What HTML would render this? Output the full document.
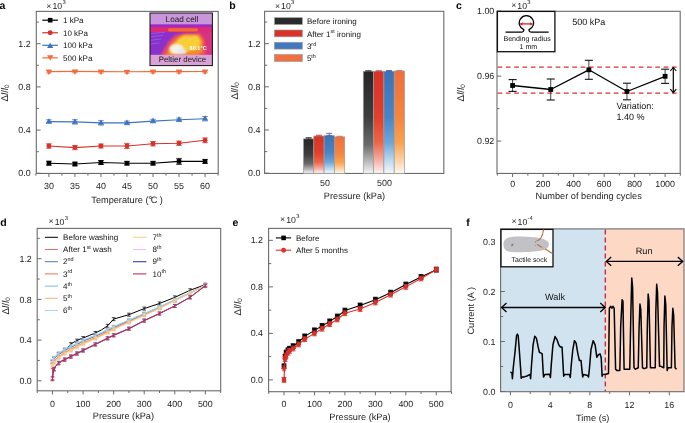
<!DOCTYPE html>
<html><head><meta charset="utf-8"><style>
html,body{margin:0;padding:0;background:#fff;width:685px;height:423px;overflow:hidden}
svg{display:block;font-family:"Liberation Sans", sans-serif;will-change:transform;text-rendering:geometricPrecision}
</style></head><body>
<svg width="685" height="423" viewBox="0 0 685 423" font-family='"Liberation Sans", sans-serif'>
<rect width="685" height="423" fill="#fff"/>
<rect x="36.30" y="11.40" width="181.90" height="162.05" fill="none" stroke="#6b6b6b" stroke-width="1.1"/>
<line x1="36.30" y1="173.30" x2="40.60" y2="173.30" stroke="#6b6b6b" stroke-width="1" />
<text x="30.70" y="176.40" font-size="8.9" text-anchor="end" fill="#222" font-weight="normal" >0.0</text>
<line x1="36.30" y1="130.10" x2="40.60" y2="130.10" stroke="#6b6b6b" stroke-width="1" />
<text x="30.70" y="133.20" font-size="8.9" text-anchor="end" fill="#222" font-weight="normal" >0.4</text>
<line x1="36.30" y1="86.90" x2="40.60" y2="86.90" stroke="#6b6b6b" stroke-width="1" />
<text x="30.70" y="90.00" font-size="8.9" text-anchor="end" fill="#222" font-weight="normal" >0.8</text>
<line x1="36.30" y1="43.70" x2="40.60" y2="43.70" stroke="#6b6b6b" stroke-width="1" />
<text x="30.70" y="46.80" font-size="8.9" text-anchor="end" fill="#222" font-weight="normal" >1.2</text>
<line x1="36.30" y1="151.70" x2="38.90" y2="151.70" stroke="#6b6b6b" stroke-width="1" />
<line x1="36.30" y1="108.50" x2="38.90" y2="108.50" stroke="#6b6b6b" stroke-width="1" />
<line x1="36.30" y1="65.30" x2="38.90" y2="65.30" stroke="#6b6b6b" stroke-width="1" />
<line x1="36.30" y1="22.10" x2="38.90" y2="22.10" stroke="#6b6b6b" stroke-width="1" />
<line x1="48.90" y1="173.45" x2="48.90" y2="177.05" stroke="#6b6b6b" stroke-width="1" />
<text x="48.90" y="189.35" font-size="8.9" text-anchor="middle" fill="#222" font-weight="normal" >30</text>
<line x1="74.92" y1="173.45" x2="74.92" y2="177.05" stroke="#6b6b6b" stroke-width="1" />
<text x="74.92" y="189.35" font-size="8.9" text-anchor="middle" fill="#222" font-weight="normal" >35</text>
<line x1="100.95" y1="173.45" x2="100.95" y2="177.05" stroke="#6b6b6b" stroke-width="1" />
<text x="100.95" y="189.35" font-size="8.9" text-anchor="middle" fill="#222" font-weight="normal" >40</text>
<line x1="126.97" y1="173.45" x2="126.97" y2="177.05" stroke="#6b6b6b" stroke-width="1" />
<text x="126.97" y="189.35" font-size="8.9" text-anchor="middle" fill="#222" font-weight="normal" >45</text>
<line x1="153.00" y1="173.45" x2="153.00" y2="177.05" stroke="#6b6b6b" stroke-width="1" />
<text x="153.00" y="189.35" font-size="8.9" text-anchor="middle" fill="#222" font-weight="normal" >50</text>
<line x1="179.03" y1="173.45" x2="179.03" y2="177.05" stroke="#6b6b6b" stroke-width="1" />
<text x="179.03" y="189.35" font-size="8.9" text-anchor="middle" fill="#222" font-weight="normal" >55</text>
<line x1="205.05" y1="173.45" x2="205.05" y2="177.05" stroke="#6b6b6b" stroke-width="1" />
<text x="205.05" y="189.35" font-size="8.9" text-anchor="middle" fill="#222" font-weight="normal" >60</text>
<line x1="35.89" y1="173.45" x2="35.89" y2="175.65" stroke="#6b6b6b" stroke-width="1" />
<line x1="61.91" y1="173.45" x2="61.91" y2="175.65" stroke="#6b6b6b" stroke-width="1" />
<line x1="87.94" y1="173.45" x2="87.94" y2="175.65" stroke="#6b6b6b" stroke-width="1" />
<line x1="113.96" y1="173.45" x2="113.96" y2="175.65" stroke="#6b6b6b" stroke-width="1" />
<line x1="139.99" y1="173.45" x2="139.99" y2="175.65" stroke="#6b6b6b" stroke-width="1" />
<line x1="166.01" y1="173.45" x2="166.01" y2="175.65" stroke="#6b6b6b" stroke-width="1" />
<line x1="192.04" y1="173.45" x2="192.04" y2="175.65" stroke="#6b6b6b" stroke-width="1" />
<line x1="218.06" y1="173.45" x2="218.06" y2="175.65" stroke="#6b6b6b" stroke-width="1" />
<text x="-0.40" y="8.70" font-size="10.5" text-anchor="start" fill="#000" font-weight="bold" >a</text>
<text x="48.90" y="8.50" font-size="8.7" text-anchor="middle" fill="#222">×</text>
<text x="52.50" y="8.80" font-size="8.7" fill="#222">10</text>
<text x="62.50" y="4.20" font-size="5.8" fill="#222">3</text>
<text transform="translate(8.00,93.00) rotate(-90)" font-size="9.8" text-anchor="middle" fill="#222">Δ<tspan font-style="italic">l</tspan>/<tspan font-style="italic">l</tspan><tspan font-size="6.3" dy="1.3">0</tspan></text>
<text x="91.3" y="202.7" font-size="9.2" fill="#222">Temperature (</text>
<circle cx="150.4" cy="197.5" r="1.05" fill="none" stroke="#222" stroke-width="0.75"/>
<text x="150.8" y="202.7" font-size="9.2" fill="#222">C</text>
<text x="159.7" y="202.7" font-size="9.2" fill="#222">)</text>
<polyline points="48.90,163.20 74.92,164.00 100.95,162.50 126.97,163.20 153.00,163.20 179.03,161.40 205.05,161.40" fill="none" stroke="#000" stroke-width="1.1" stroke-linejoin="round" />
<line x1="48.90" y1="161.20" x2="48.90" y2="165.20" stroke="#000" stroke-width="0.8" />
<line x1="46.10" y1="161.20" x2="51.70" y2="161.20" stroke="#000" stroke-width="0.8" />
<line x1="46.10" y1="165.20" x2="51.70" y2="165.20" stroke="#000" stroke-width="0.8" />
<rect x="46.60" y="160.90" width="4.60" height="4.60" fill="#000"/>
<line x1="74.92" y1="162.20" x2="74.92" y2="165.80" stroke="#000" stroke-width="0.8" />
<line x1="72.12" y1="162.20" x2="77.72" y2="162.20" stroke="#000" stroke-width="0.8" />
<line x1="72.12" y1="165.80" x2="77.72" y2="165.80" stroke="#000" stroke-width="0.8" />
<rect x="72.62" y="161.70" width="4.60" height="4.60" fill="#000"/>
<line x1="100.95" y1="160.50" x2="100.95" y2="164.50" stroke="#000" stroke-width="0.8" />
<line x1="98.15" y1="160.50" x2="103.75" y2="160.50" stroke="#000" stroke-width="0.8" />
<line x1="98.15" y1="164.50" x2="103.75" y2="164.50" stroke="#000" stroke-width="0.8" />
<rect x="98.65" y="160.20" width="4.60" height="4.60" fill="#000"/>
<line x1="126.97" y1="161.40" x2="126.97" y2="165.00" stroke="#000" stroke-width="0.8" />
<line x1="124.17" y1="161.40" x2="129.78" y2="161.40" stroke="#000" stroke-width="0.8" />
<line x1="124.17" y1="165.00" x2="129.78" y2="165.00" stroke="#000" stroke-width="0.8" />
<rect x="124.67" y="160.90" width="4.60" height="4.60" fill="#000"/>
<line x1="153.00" y1="161.40" x2="153.00" y2="165.00" stroke="#000" stroke-width="0.8" />
<line x1="150.20" y1="161.40" x2="155.80" y2="161.40" stroke="#000" stroke-width="0.8" />
<line x1="150.20" y1="165.00" x2="155.80" y2="165.00" stroke="#000" stroke-width="0.8" />
<rect x="150.70" y="160.90" width="4.60" height="4.60" fill="#000"/>
<line x1="179.03" y1="158.40" x2="179.03" y2="164.40" stroke="#000" stroke-width="0.8" />
<line x1="176.22" y1="158.40" x2="181.83" y2="158.40" stroke="#000" stroke-width="0.8" />
<line x1="176.22" y1="164.40" x2="181.83" y2="164.40" stroke="#000" stroke-width="0.8" />
<rect x="176.72" y="159.10" width="4.60" height="4.60" fill="#000"/>
<line x1="205.05" y1="159.40" x2="205.05" y2="163.40" stroke="#000" stroke-width="0.8" />
<line x1="202.25" y1="159.40" x2="207.85" y2="159.40" stroke="#000" stroke-width="0.8" />
<line x1="202.25" y1="163.40" x2="207.85" y2="163.40" stroke="#000" stroke-width="0.8" />
<rect x="202.75" y="159.10" width="4.60" height="4.60" fill="#000"/>
<polyline points="48.90,146.00 74.92,147.60 100.95,146.00 126.97,146.00 153.00,143.70 179.03,143.20 205.05,140.30" fill="none" stroke="#d9302a" stroke-width="1.1" stroke-linejoin="round" />
<line x1="48.90" y1="143.80" x2="48.90" y2="148.20" stroke="#d9302a" stroke-width="0.8" />
<line x1="46.10" y1="143.80" x2="51.70" y2="143.80" stroke="#d9302a" stroke-width="0.8" />
<line x1="46.10" y1="148.20" x2="51.70" y2="148.20" stroke="#d9302a" stroke-width="0.8" />
<circle cx="48.90" cy="146.00" r="2.48" fill="#d9302a"/>
<line x1="74.92" y1="145.50" x2="74.92" y2="149.70" stroke="#d9302a" stroke-width="0.8" />
<line x1="72.12" y1="145.50" x2="77.72" y2="145.50" stroke="#d9302a" stroke-width="0.8" />
<line x1="72.12" y1="149.70" x2="77.72" y2="149.70" stroke="#d9302a" stroke-width="0.8" />
<circle cx="74.92" cy="147.60" r="2.48" fill="#d9302a"/>
<line x1="100.95" y1="144.00" x2="100.95" y2="148.00" stroke="#d9302a" stroke-width="0.8" />
<line x1="98.15" y1="144.00" x2="103.75" y2="144.00" stroke="#d9302a" stroke-width="0.8" />
<line x1="98.15" y1="148.00" x2="103.75" y2="148.00" stroke="#d9302a" stroke-width="0.8" />
<circle cx="100.95" cy="146.00" r="2.48" fill="#d9302a"/>
<line x1="126.97" y1="143.40" x2="126.97" y2="148.60" stroke="#d9302a" stroke-width="0.8" />
<line x1="124.17" y1="143.40" x2="129.78" y2="143.40" stroke="#d9302a" stroke-width="0.8" />
<line x1="124.17" y1="148.60" x2="129.78" y2="148.60" stroke="#d9302a" stroke-width="0.8" />
<circle cx="126.97" cy="146.00" r="2.48" fill="#d9302a"/>
<line x1="153.00" y1="141.50" x2="153.00" y2="145.90" stroke="#d9302a" stroke-width="0.8" />
<line x1="150.20" y1="141.50" x2="155.80" y2="141.50" stroke="#d9302a" stroke-width="0.8" />
<line x1="150.20" y1="145.90" x2="155.80" y2="145.90" stroke="#d9302a" stroke-width="0.8" />
<circle cx="153.00" cy="143.70" r="2.48" fill="#d9302a"/>
<line x1="179.03" y1="141.10" x2="179.03" y2="145.30" stroke="#d9302a" stroke-width="0.8" />
<line x1="176.22" y1="141.10" x2="181.83" y2="141.10" stroke="#d9302a" stroke-width="0.8" />
<line x1="176.22" y1="145.30" x2="181.83" y2="145.30" stroke="#d9302a" stroke-width="0.8" />
<circle cx="179.03" cy="143.20" r="2.48" fill="#d9302a"/>
<line x1="205.05" y1="137.90" x2="205.05" y2="142.70" stroke="#d9302a" stroke-width="0.8" />
<line x1="202.25" y1="137.90" x2="207.85" y2="137.90" stroke="#d9302a" stroke-width="0.8" />
<line x1="202.25" y1="142.70" x2="207.85" y2="142.70" stroke="#d9302a" stroke-width="0.8" />
<circle cx="205.05" cy="140.30" r="2.48" fill="#d9302a"/>
<polyline points="48.90,121.60 74.92,121.90 100.95,122.90 126.97,122.90 153.00,121.10 179.03,119.80 205.05,118.70" fill="none" stroke="#3d73c0" stroke-width="1.1" stroke-linejoin="round" />
<line x1="48.90" y1="119.80" x2="48.90" y2="123.40" stroke="#3d73c0" stroke-width="0.8" />
<line x1="46.10" y1="119.80" x2="51.70" y2="119.80" stroke="#3d73c0" stroke-width="0.8" />
<line x1="46.10" y1="123.40" x2="51.70" y2="123.40" stroke="#3d73c0" stroke-width="0.8" />
<polygon points="48.90,118.13 52.05,123.33 45.75,123.33" fill="#3d73c0"/>
<line x1="74.92" y1="119.70" x2="74.92" y2="124.10" stroke="#3d73c0" stroke-width="0.8" />
<line x1="72.12" y1="119.70" x2="77.72" y2="119.70" stroke="#3d73c0" stroke-width="0.8" />
<line x1="72.12" y1="124.10" x2="77.72" y2="124.10" stroke="#3d73c0" stroke-width="0.8" />
<polygon points="74.92,118.43 78.08,123.63 71.77,123.63" fill="#3d73c0"/>
<line x1="100.95" y1="120.70" x2="100.95" y2="125.10" stroke="#3d73c0" stroke-width="0.8" />
<line x1="98.15" y1="120.70" x2="103.75" y2="120.70" stroke="#3d73c0" stroke-width="0.8" />
<line x1="98.15" y1="125.10" x2="103.75" y2="125.10" stroke="#3d73c0" stroke-width="0.8" />
<polygon points="100.95,119.43 104.10,124.63 97.80,124.63" fill="#3d73c0"/>
<line x1="126.97" y1="121.10" x2="126.97" y2="124.70" stroke="#3d73c0" stroke-width="0.8" />
<line x1="124.17" y1="121.10" x2="129.78" y2="121.10" stroke="#3d73c0" stroke-width="0.8" />
<line x1="124.17" y1="124.70" x2="129.78" y2="124.70" stroke="#3d73c0" stroke-width="0.8" />
<polygon points="126.97,119.43 130.13,124.63 123.82,124.63" fill="#3d73c0"/>
<line x1="153.00" y1="119.30" x2="153.00" y2="122.90" stroke="#3d73c0" stroke-width="0.8" />
<line x1="150.20" y1="119.30" x2="155.80" y2="119.30" stroke="#3d73c0" stroke-width="0.8" />
<line x1="150.20" y1="122.90" x2="155.80" y2="122.90" stroke="#3d73c0" stroke-width="0.8" />
<polygon points="153.00,117.63 156.15,122.83 149.85,122.83" fill="#3d73c0"/>
<line x1="179.03" y1="118.00" x2="179.03" y2="121.60" stroke="#3d73c0" stroke-width="0.8" />
<line x1="176.22" y1="118.00" x2="181.83" y2="118.00" stroke="#3d73c0" stroke-width="0.8" />
<line x1="176.22" y1="121.60" x2="181.83" y2="121.60" stroke="#3d73c0" stroke-width="0.8" />
<polygon points="179.03,116.33 182.18,121.53 175.87,121.53" fill="#3d73c0"/>
<line x1="205.05" y1="116.50" x2="205.05" y2="120.90" stroke="#3d73c0" stroke-width="0.8" />
<line x1="202.25" y1="116.50" x2="207.85" y2="116.50" stroke="#3d73c0" stroke-width="0.8" />
<line x1="202.25" y1="120.90" x2="207.85" y2="120.90" stroke="#3d73c0" stroke-width="0.8" />
<polygon points="205.05,115.23 208.20,120.43 201.90,120.43" fill="#3d73c0"/>
<polyline points="48.90,71.60 74.92,71.40 100.95,71.60 126.97,71.80 153.00,71.60 179.03,71.60 205.05,71.50" fill="none" stroke="#f26b3a" stroke-width="1.1" stroke-linejoin="round" />
<line x1="48.90" y1="70.20" x2="48.90" y2="73.00" stroke="#f26b3a" stroke-width="0.8" />
<line x1="46.10" y1="70.20" x2="51.70" y2="70.20" stroke="#f26b3a" stroke-width="0.8" />
<line x1="46.10" y1="73.00" x2="51.70" y2="73.00" stroke="#f26b3a" stroke-width="0.8" />
<polygon points="48.90,75.07 52.05,69.87 45.75,69.87" fill="#f26b3a"/>
<line x1="74.92" y1="70.00" x2="74.92" y2="72.80" stroke="#f26b3a" stroke-width="0.8" />
<line x1="72.12" y1="70.00" x2="77.72" y2="70.00" stroke="#f26b3a" stroke-width="0.8" />
<line x1="72.12" y1="72.80" x2="77.72" y2="72.80" stroke="#f26b3a" stroke-width="0.8" />
<polygon points="74.92,74.87 78.08,69.67 71.77,69.67" fill="#f26b3a"/>
<line x1="100.95" y1="70.20" x2="100.95" y2="73.00" stroke="#f26b3a" stroke-width="0.8" />
<line x1="98.15" y1="70.20" x2="103.75" y2="70.20" stroke="#f26b3a" stroke-width="0.8" />
<line x1="98.15" y1="73.00" x2="103.75" y2="73.00" stroke="#f26b3a" stroke-width="0.8" />
<polygon points="100.95,75.07 104.10,69.87 97.80,69.87" fill="#f26b3a"/>
<line x1="126.97" y1="70.40" x2="126.97" y2="73.20" stroke="#f26b3a" stroke-width="0.8" />
<line x1="124.17" y1="70.40" x2="129.78" y2="70.40" stroke="#f26b3a" stroke-width="0.8" />
<line x1="124.17" y1="73.20" x2="129.78" y2="73.20" stroke="#f26b3a" stroke-width="0.8" />
<polygon points="126.97,75.27 130.13,70.07 123.82,70.07" fill="#f26b3a"/>
<line x1="153.00" y1="70.20" x2="153.00" y2="73.00" stroke="#f26b3a" stroke-width="0.8" />
<line x1="150.20" y1="70.20" x2="155.80" y2="70.20" stroke="#f26b3a" stroke-width="0.8" />
<line x1="150.20" y1="73.00" x2="155.80" y2="73.00" stroke="#f26b3a" stroke-width="0.8" />
<polygon points="153.00,75.07 156.15,69.87 149.85,69.87" fill="#f26b3a"/>
<line x1="179.03" y1="70.20" x2="179.03" y2="73.00" stroke="#f26b3a" stroke-width="0.8" />
<line x1="176.22" y1="70.20" x2="181.83" y2="70.20" stroke="#f26b3a" stroke-width="0.8" />
<line x1="176.22" y1="73.00" x2="181.83" y2="73.00" stroke="#f26b3a" stroke-width="0.8" />
<polygon points="179.03,75.07 182.18,69.87 175.87,69.87" fill="#f26b3a"/>
<line x1="205.05" y1="70.10" x2="205.05" y2="72.90" stroke="#f26b3a" stroke-width="0.8" />
<line x1="202.25" y1="70.10" x2="207.85" y2="70.10" stroke="#f26b3a" stroke-width="0.8" />
<line x1="202.25" y1="72.90" x2="207.85" y2="72.90" stroke="#f26b3a" stroke-width="0.8" />
<polygon points="205.05,74.97 208.20,69.77 201.90,69.77" fill="#f26b3a"/>
<line x1="42.30" y1="20.20" x2="57.90" y2="20.20" stroke="#000" stroke-width="1.2" />
<rect x="47.90" y="17.90" width="4.60" height="4.60" fill="#000"/>
<text x="63.00" y="23.10" font-size="8.0" text-anchor="start" fill="#111" font-weight="normal" >1 kPa</text>
<line x1="42.30" y1="32.75" x2="57.90" y2="32.75" stroke="#d9302a" stroke-width="1.2" />
<circle cx="50.20" cy="32.75" r="2.48" fill="#d9302a"/>
<text x="63.00" y="35.65" font-size="8.0" text-anchor="start" fill="#111" font-weight="normal" >10 kPa</text>
<line x1="42.30" y1="45.30" x2="57.90" y2="45.30" stroke="#3d73c0" stroke-width="1.2" />
<polygon points="50.20,42.70 53.35,47.90 47.05,47.90" fill="#3d73c0"/>
<text x="63.00" y="48.20" font-size="8.0" text-anchor="start" fill="#111" font-weight="normal" >100 kPa</text>
<line x1="42.30" y1="57.85" x2="57.90" y2="57.85" stroke="#f26b3a" stroke-width="1.2" />
<polygon points="50.20,60.45 53.35,55.25 47.05,55.25" fill="#f26b3a"/>
<text x="63.00" y="60.75" font-size="8.0" text-anchor="start" fill="#111" font-weight="normal" >500 kPa</text>
<defs><clipPath id="thc"><rect x="150.00" y="13.00" width="62.40" height="52.60"/></clipPath><filter id="bl1" x="-50%" y="-50%" width="200%" height="200%"><feGaussianBlur stdDeviation="1.6"/></filter><filter id="bl2" x="-50%" y="-50%" width="200%" height="200%"><feGaussianBlur stdDeviation="0.8"/></filter><filter id="bl3" x="-50%" y="-50%" width="200%" height="200%"><feGaussianBlur stdDeviation="0.4"/></filter></defs>
<g clip-path="url(#thc)">
<rect x="150" y="13" width="62.400000000000006" height="52.599999999999994" fill="#8a30cc"/>
<rect x="147" y="26.8" width="68.4" height="5.4" fill="#dc2a78" filter="url(#bl3)"/>
<rect x="197" y="31" width="18" height="25" fill="#d83080" filter="url(#bl2)"/>
<polygon points="160,56 168,42 175,35 184,33 200,33 205,40 206,56" fill="#e8486a" filter="url(#bl2)"/>
<polygon points="165,56 172,43 178,37 185,34.5 199,34.5 203,40 203,52 196,56" fill="#f4882c" filter="url(#bl2)"/>
<polygon points="170,54 176,42 181,37 187,35.5 198,36 201,42 199,49 190,51" fill="#f8cc34" filter="url(#bl2)"/>
<circle cx="184" cy="37" r="1.1" fill="#f9dc58" filter="url(#bl2)"/>
<circle cx="190" cy="39" r="1.1" fill="#f9dc58" filter="url(#bl2)"/>
<circle cx="195" cy="37" r="1.1" fill="#f9dc58" filter="url(#bl2)"/>
<circle cx="187" cy="43" r="1.1" fill="#f9dc58" filter="url(#bl2)"/>
<circle cx="193" cy="44" r="1.1" fill="#f9dc58" filter="url(#bl2)"/>
<circle cx="181" cy="41" r="1.1" fill="#f9dc58" filter="url(#bl2)"/>
<circle cx="198" cy="41" r="1.1" fill="#f9dc58" filter="url(#bl2)"/>
<ellipse cx="176.5" cy="49" rx="7.2" ry="5" fill="#f4f2ea" filter="url(#bl2)"/>
<ellipse cx="182" cy="51.5" rx="4.5" ry="2.6" fill="#dfe8f2" filter="url(#bl2)"/>
<rect x="168" y="28.3" width="30" height="3.2" rx="1.5" fill="#f26a32" filter="url(#bl3)"/>
<line x1="151" y1="33.5" x2="164.8" y2="32.3" stroke="#a670dc" stroke-width="0.6"/>
<line x1="151" y1="36.6" x2="163.2" y2="35.4" stroke="#a670dc" stroke-width="0.6"/>
<line x1="151" y1="40.2" x2="161.4" y2="39.0" stroke="#a670dc" stroke-width="0.6"/>
<line x1="151" y1="44" x2="159.5" y2="42.8" stroke="#a670dc" stroke-width="0.6"/>
<rect x="150" y="13" width="62.400000000000006" height="11.6" fill="#c996da"/>
<rect x="150" y="24.6" width="62.400000000000006" height="1.6" fill="#9a2ad0"/>
<rect x="150" y="54.8" width="62.400000000000006" height="10.8" fill="#d8a2d4"/>
</g>
<rect x="150" y="13" width="62.400000000000006" height="52.599999999999994" fill="none" stroke="#111" stroke-width="1"/>
<text x="182.00" y="21.70" font-size="8.2" text-anchor="middle" fill="#1a1a1a" font-weight="normal" >Load cell</text>
<text x="182.40" y="62.10" font-size="7.9" text-anchor="middle" fill="#1a1a1a" font-weight="normal" >Peltier device</text>
<text x="189.60" y="50.00" font-size="5.6" text-anchor="start" fill="#fff" font-weight="bold" >60.1°C</text>
<rect x="264.60" y="11.30" width="179.20" height="162.15" fill="none" stroke="#6b6b6b" stroke-width="1.1"/>
<line x1="264.60" y1="173.20" x2="268.90" y2="173.20" stroke="#6b6b6b" stroke-width="1" />
<text x="260.40" y="176.30" font-size="8.9" text-anchor="end" fill="#222" font-weight="normal" >0.0</text>
<line x1="264.60" y1="130.00" x2="268.90" y2="130.00" stroke="#6b6b6b" stroke-width="1" />
<text x="260.40" y="133.10" font-size="8.9" text-anchor="end" fill="#222" font-weight="normal" >0.4</text>
<line x1="264.60" y1="86.80" x2="268.90" y2="86.80" stroke="#6b6b6b" stroke-width="1" />
<text x="260.40" y="89.90" font-size="8.9" text-anchor="end" fill="#222" font-weight="normal" >0.8</text>
<line x1="264.60" y1="43.60" x2="268.90" y2="43.60" stroke="#6b6b6b" stroke-width="1" />
<text x="260.40" y="46.70" font-size="8.9" text-anchor="end" fill="#222" font-weight="normal" >1.2</text>
<line x1="264.60" y1="151.60" x2="267.20" y2="151.60" stroke="#6b6b6b" stroke-width="1" />
<line x1="264.60" y1="108.40" x2="267.20" y2="108.40" stroke="#6b6b6b" stroke-width="1" />
<line x1="264.60" y1="65.20" x2="267.20" y2="65.20" stroke="#6b6b6b" stroke-width="1" />
<line x1="264.60" y1="22.00" x2="267.20" y2="22.00" stroke="#6b6b6b" stroke-width="1" />
<text x="325.00" y="186.15" font-size="8.9" text-anchor="middle" fill="#222" font-weight="normal" >50</text>
<text x="384.50" y="186.15" font-size="8.9" text-anchor="middle" fill="#222" font-weight="normal" >500</text>
<text x="229.20" y="8.70" font-size="10.5" text-anchor="start" fill="#000" font-weight="bold" >b</text>
<text x="277.50" y="8.50" font-size="8.7" text-anchor="middle" fill="#222">×</text>
<text x="281.10" y="8.80" font-size="8.7" fill="#222">10</text>
<text x="291.10" y="4.20" font-size="5.8" fill="#222">3</text>
<text transform="translate(237.80,90.80) rotate(-90)" font-size="9.8" text-anchor="middle" fill="#222">Δ<tspan font-style="italic">l</tspan>/<tspan font-style="italic">l</tspan><tspan font-size="6.3" dy="1.3">0</tspan></text>
<text x="354.5" y="198.9" font-size="9.2" text-anchor="middle" fill="#222">Pressure (kPa)</text>
<defs><linearGradient id="gk" x1="0" y1="0" x2="0" y2="1"><stop offset="0" stop-color="#262626"/><stop offset="0.45" stop-color="#3e3e3e"/><stop offset="0.72" stop-color="#6a6a6a"/><stop offset="0.88" stop-color="#b8b8b8"/><stop offset="1" stop-color="#f6f6f6"/></linearGradient><linearGradient id="gr" x1="0" y1="0" x2="0" y2="1"><stop offset="0" stop-color="#d93228"/><stop offset="0.45" stop-color="#e0402c"/><stop offset="0.7" stop-color="#ec6646"/><stop offset="0.86" stop-color="#f6aaa0"/><stop offset="1" stop-color="#fdf4f2"/></linearGradient><linearGradient id="gb" x1="0" y1="0" x2="0" y2="1"><stop offset="0" stop-color="#3c72b8"/><stop offset="0.45" stop-color="#4a84c4"/><stop offset="0.7" stop-color="#6ea6d8"/><stop offset="0.86" stop-color="#b6d6ee"/><stop offset="1" stop-color="#f4f9fd"/></linearGradient><linearGradient id="go" x1="0" y1="0" x2="0" y2="1"><stop offset="0" stop-color="#f07038"/><stop offset="0.45" stop-color="#f58540"/><stop offset="0.7" stop-color="#f9a250"/><stop offset="0.86" stop-color="#fcd0a0"/><stop offset="1" stop-color="#fef8f0"/></linearGradient></defs>
<rect x="303.50" y="138.86" width="10.30" height="34.59" fill="url(#gk)" stroke="#9a9a9a" stroke-width="0.7"/>
<line x1="308.65" y1="137.56" x2="308.65" y2="138.86" stroke="#333" stroke-width="0.8" />
<line x1="305.65" y1="137.56" x2="311.65" y2="137.56" stroke="#333" stroke-width="0.8" />
<line x1="305.65" y1="138.86" x2="311.65" y2="138.86" stroke="#333" stroke-width="0.8" />
<rect x="313.80" y="136.05" width="10.30" height="37.40" fill="url(#gr)" stroke="#9a9a9a" stroke-width="0.7"/>
<line x1="318.95" y1="135.18" x2="318.95" y2="136.05" stroke="#c03a50" stroke-width="0.8" />
<line x1="315.95" y1="135.18" x2="321.95" y2="135.18" stroke="#c03a50" stroke-width="0.8" />
<line x1="315.95" y1="136.05" x2="321.95" y2="136.05" stroke="#c03a50" stroke-width="0.8" />
<rect x="324.10" y="135.72" width="10.30" height="37.73" fill="url(#gb)" stroke="#9a9a9a" stroke-width="0.7"/>
<line x1="329.25" y1="133.35" x2="329.25" y2="135.72" stroke="#3a4aa8" stroke-width="0.8" />
<line x1="326.25" y1="133.35" x2="332.25" y2="133.35" stroke="#3a4aa8" stroke-width="0.8" />
<line x1="326.25" y1="135.72" x2="332.25" y2="135.72" stroke="#3a4aa8" stroke-width="0.8" />
<rect x="334.40" y="136.91" width="10.30" height="36.54" fill="url(#go)" stroke="#9a9a9a" stroke-width="0.7"/>
<line x1="339.55" y1="136.26" x2="339.55" y2="136.91" stroke="#e06a6a" stroke-width="0.8" />
<line x1="336.55" y1="136.26" x2="342.55" y2="136.26" stroke="#e06a6a" stroke-width="0.8" />
<line x1="336.55" y1="136.91" x2="342.55" y2="136.91" stroke="#e06a6a" stroke-width="0.8" />
<rect x="363.30" y="71.25" width="10.30" height="102.20" fill="url(#gk)" stroke="#9a9a9a" stroke-width="0.7"/>
<line x1="368.45" y1="70.71" x2="368.45" y2="71.25" stroke="#333" stroke-width="0.8" />
<line x1="365.45" y1="70.71" x2="371.45" y2="70.71" stroke="#333" stroke-width="0.8" />
<line x1="365.45" y1="71.25" x2="371.45" y2="71.25" stroke="#333" stroke-width="0.8" />
<rect x="373.60" y="71.25" width="10.30" height="102.20" fill="url(#gr)" stroke="#9a9a9a" stroke-width="0.7"/>
<line x1="378.75" y1="70.82" x2="378.75" y2="71.25" stroke="#c03a50" stroke-width="0.8" />
<line x1="375.75" y1="70.82" x2="381.75" y2="70.82" stroke="#c03a50" stroke-width="0.8" />
<line x1="375.75" y1="71.25" x2="381.75" y2="71.25" stroke="#c03a50" stroke-width="0.8" />
<rect x="383.90" y="71.25" width="10.30" height="102.20" fill="url(#gb)" stroke="#9a9a9a" stroke-width="0.7"/>
<line x1="389.05" y1="70.60" x2="389.05" y2="71.25" stroke="#3a4aa8" stroke-width="0.8" />
<line x1="386.05" y1="70.60" x2="392.05" y2="70.60" stroke="#3a4aa8" stroke-width="0.8" />
<line x1="386.05" y1="71.25" x2="392.05" y2="71.25" stroke="#3a4aa8" stroke-width="0.8" />
<rect x="394.20" y="71.03" width="10.30" height="102.42" fill="url(#go)" stroke="#9a9a9a" stroke-width="0.7"/>
<line x1="399.35" y1="70.49" x2="399.35" y2="71.03" stroke="#e06a6a" stroke-width="0.8" />
<line x1="396.35" y1="70.49" x2="402.35" y2="70.49" stroke="#e06a6a" stroke-width="0.8" />
<line x1="396.35" y1="71.03" x2="402.35" y2="71.03" stroke="#e06a6a" stroke-width="0.8" />
<rect x="274.5" y="17.70" width="27.8" height="6.8" fill="#2a2a2a" stroke="#999" stroke-width="0.7"/>
<text x="306.90" y="24.30" font-size="8.0" text-anchor="start" fill="#111" font-weight="normal" >Before ironing</text>
<rect x="274.5" y="30.00" width="27.8" height="6.8" fill="#d93228" stroke="#999" stroke-width="0.7"/>
<text x="306.90" y="36.60" font-size="8.0" text-anchor="start" fill="#111" font-weight="normal" >After 1<tspan font-size="5.4" dy="-3.3">st</tspan><tspan dy="3.3"> ironing</tspan></text>
<rect x="274.5" y="42.30" width="27.8" height="6.8" fill="#4178c0" stroke="#999" stroke-width="0.7"/>
<text x="306.90" y="48.90" font-size="8.0" text-anchor="start" fill="#111" font-weight="normal" >3<tspan font-size="5.4" dy="-3.3">rd</tspan></text>
<rect x="274.5" y="54.60" width="27.8" height="6.8" fill="#f07040" stroke="#999" stroke-width="0.7"/>
<text x="306.90" y="61.20" font-size="8.0" text-anchor="start" fill="#111" font-weight="normal" >5<tspan font-size="5.4" dy="-3.3">th</tspan></text>
<rect x="497.00" y="11.30" width="183.20" height="162.15" fill="none" stroke="#6b6b6b" stroke-width="1.1"/>
<line x1="497.00" y1="141.10" x2="501.30" y2="141.10" stroke="#6b6b6b" stroke-width="1" />
<text x="494.30" y="144.20" font-size="8.9" text-anchor="end" fill="#222" font-weight="normal" >0.92</text>
<line x1="497.00" y1="76.10" x2="501.30" y2="76.10" stroke="#6b6b6b" stroke-width="1" />
<text x="494.30" y="79.20" font-size="8.9" text-anchor="end" fill="#222" font-weight="normal" >0.96</text>
<line x1="497.00" y1="11.10" x2="501.30" y2="11.10" stroke="#6b6b6b" stroke-width="1" />
<text x="494.30" y="14.20" font-size="8.9" text-anchor="end" fill="#222" font-weight="normal" >1.00</text>
<line x1="497.00" y1="108.60" x2="499.60" y2="108.60" stroke="#6b6b6b" stroke-width="1" />
<line x1="497.00" y1="43.60" x2="499.60" y2="43.60" stroke="#6b6b6b" stroke-width="1" />
<line x1="512.60" y1="173.45" x2="512.60" y2="177.05" stroke="#6b6b6b" stroke-width="1" />
<text x="512.60" y="186.95" font-size="8.9" text-anchor="middle" fill="#222" font-weight="normal" >0</text>
<line x1="543.10" y1="173.45" x2="543.10" y2="177.05" stroke="#6b6b6b" stroke-width="1" />
<text x="543.10" y="186.95" font-size="8.9" text-anchor="middle" fill="#222" font-weight="normal" >200</text>
<line x1="573.60" y1="173.45" x2="573.60" y2="177.05" stroke="#6b6b6b" stroke-width="1" />
<text x="573.60" y="186.95" font-size="8.9" text-anchor="middle" fill="#222" font-weight="normal" >400</text>
<line x1="604.10" y1="173.45" x2="604.10" y2="177.05" stroke="#6b6b6b" stroke-width="1" />
<text x="604.10" y="186.95" font-size="8.9" text-anchor="middle" fill="#222" font-weight="normal" >600</text>
<line x1="634.60" y1="173.45" x2="634.60" y2="177.05" stroke="#6b6b6b" stroke-width="1" />
<text x="634.60" y="186.95" font-size="8.9" text-anchor="middle" fill="#222" font-weight="normal" >800</text>
<line x1="665.10" y1="173.45" x2="665.10" y2="177.05" stroke="#6b6b6b" stroke-width="1" />
<text x="665.10" y="186.95" font-size="8.9" text-anchor="middle" fill="#222" font-weight="normal" >1000</text>
<line x1="497.35" y1="173.45" x2="497.35" y2="175.65" stroke="#6b6b6b" stroke-width="1" />
<line x1="527.85" y1="173.45" x2="527.85" y2="175.65" stroke="#6b6b6b" stroke-width="1" />
<line x1="558.35" y1="173.45" x2="558.35" y2="175.65" stroke="#6b6b6b" stroke-width="1" />
<line x1="588.85" y1="173.45" x2="588.85" y2="175.65" stroke="#6b6b6b" stroke-width="1" />
<line x1="619.35" y1="173.45" x2="619.35" y2="175.65" stroke="#6b6b6b" stroke-width="1" />
<line x1="649.85" y1="173.45" x2="649.85" y2="175.65" stroke="#6b6b6b" stroke-width="1" />
<line x1="680.35" y1="173.45" x2="680.35" y2="175.65" stroke="#6b6b6b" stroke-width="1" />
<text x="455.90" y="8.70" font-size="10.5" text-anchor="start" fill="#000" font-weight="bold" >c</text>
<text x="513.70" y="8.30" font-size="8.7" text-anchor="middle" fill="#222">×</text>
<text x="517.30" y="8.60" font-size="8.7" fill="#222">10</text>
<text x="527.30" y="4.20" font-size="5.8" fill="#222">3</text>
<text transform="translate(463.70,92.80) rotate(-90)" font-size="9.8" text-anchor="middle" fill="#222">Δ<tspan font-style="italic">l</tspan>/<tspan font-style="italic">l</tspan><tspan font-size="6.3" dy="1.3">0</tspan></text>
<text x="588.7" y="198.8" font-size="9.2" text-anchor="middle" fill="#222">Number of bending cycles</text>
<line x1="497.60" y1="67.20" x2="676.70" y2="67.20" stroke="#e03030" stroke-width="1.3" stroke-dasharray="4.7,3.6"/>
<line x1="497.60" y1="93.10" x2="676.70" y2="93.10" stroke="#e03030" stroke-width="1.3" stroke-dasharray="4.7,3.6"/>
<line x1="673.30" y1="67.60" x2="673.30" y2="92.60" stroke="#000" stroke-width="1.2" />
<polyline points="670.30,71.0 673.30,67.5 676.30,71.0" fill="none" stroke="#000" stroke-width="1.1"/>
<polyline points="670.30,89.2 673.30,92.7 676.30,89.2" fill="none" stroke="#000" stroke-width="1.1"/>
<polyline points="512.60,85.50 550.73,89.50 588.85,69.80 626.98,91.50 665.10,76.30" fill="none" stroke="#000" stroke-width="1.3" stroke-linejoin="round" />
<line x1="512.60" y1="79.60" x2="512.60" y2="91.40" stroke="#444" stroke-width="1.0" />
<line x1="508.60" y1="79.60" x2="516.60" y2="79.60" stroke="#111" stroke-width="1.1" />
<line x1="508.60" y1="91.40" x2="516.60" y2="91.40" stroke="#111" stroke-width="1.1" />
<rect x="510.20" y="83.10" width="4.80" height="4.80" fill="#000"/>
<line x1="550.73" y1="79.00" x2="550.73" y2="100.00" stroke="#444" stroke-width="1.0" />
<line x1="546.73" y1="79.00" x2="554.73" y2="79.00" stroke="#111" stroke-width="1.1" />
<line x1="546.73" y1="100.00" x2="554.73" y2="100.00" stroke="#111" stroke-width="1.1" />
<rect x="548.33" y="87.10" width="4.80" height="4.80" fill="#000"/>
<line x1="588.85" y1="60.30" x2="588.85" y2="79.30" stroke="#444" stroke-width="1.0" />
<line x1="584.85" y1="60.30" x2="592.85" y2="60.30" stroke="#111" stroke-width="1.1" />
<line x1="584.85" y1="79.30" x2="592.85" y2="79.30" stroke="#111" stroke-width="1.1" />
<rect x="586.45" y="67.40" width="4.80" height="4.80" fill="#000"/>
<line x1="626.98" y1="83.20" x2="626.98" y2="99.80" stroke="#444" stroke-width="1.0" />
<line x1="622.98" y1="83.20" x2="630.98" y2="83.20" stroke="#111" stroke-width="1.1" />
<line x1="622.98" y1="99.80" x2="630.98" y2="99.80" stroke="#111" stroke-width="1.1" />
<rect x="624.58" y="89.10" width="4.80" height="4.80" fill="#000"/>
<line x1="665.10" y1="69.20" x2="665.10" y2="83.40" stroke="#444" stroke-width="1.0" />
<line x1="661.10" y1="69.20" x2="669.10" y2="69.20" stroke="#111" stroke-width="1.1" />
<line x1="661.10" y1="83.40" x2="669.10" y2="83.40" stroke="#111" stroke-width="1.1" />
<rect x="662.70" y="73.90" width="4.80" height="4.80" fill="#000"/>
<text x="572.20" y="25.20" font-size="9.0" text-anchor="start" fill="#111" font-weight="normal" >500 kPa</text>
<text x="616.40" y="108.50" font-size="9.0" text-anchor="start" fill="#111" font-weight="normal" >Variation:</text>
<text x="616.60" y="119.90" font-size="9.0" text-anchor="start" fill="#111" font-weight="normal" >1.40 %</text>
<rect x="497.4" y="11.4" width="57.5" height="40.3" fill="#fff" stroke="#111" stroke-width="1.3"/>
<path d="M505.5,32.2 L521.4,32.2 C523.0,32.2 524.0,31.0 523.76,29.6 A7.2,7.2 0 1 1 529.04,29.6 C528.8,31.0 529.8,32.2 531.4,32.2 L548.7,32.2" fill="none" stroke="#000" stroke-width="1.3"/>
<line x1="520.30" y1="23.90" x2="532.40" y2="23.90" stroke="#e02020" stroke-width="1.3" />
<polygon points="519.8,23.9 522.6,22.3 522.6,25.5" fill="#e02020"/>
<polygon points="532.9,23.9 530.1,22.3 530.1,25.5" fill="#e02020"/>
<text x="527.10" y="40.60" font-size="7.1" text-anchor="middle" fill="#111" font-weight="normal" >Bending radius</text>
<text x="528.40" y="49.00" font-size="7.1" text-anchor="middle" fill="#111" font-weight="normal" >1 mm</text>
<rect x="37.20" y="228.40" width="183.50" height="162.40" fill="none" stroke="#6b6b6b" stroke-width="1.1"/>
<line x1="37.20" y1="380.80" x2="41.50" y2="380.80" stroke="#6b6b6b" stroke-width="1" />
<text x="31.80" y="383.90" font-size="8.9" text-anchor="end" fill="#222" font-weight="normal" >0.0</text>
<line x1="37.20" y1="340.10" x2="41.50" y2="340.10" stroke="#6b6b6b" stroke-width="1" />
<text x="31.80" y="343.20" font-size="8.9" text-anchor="end" fill="#222" font-weight="normal" >0.4</text>
<line x1="37.20" y1="299.40" x2="41.50" y2="299.40" stroke="#6b6b6b" stroke-width="1" />
<text x="31.80" y="302.50" font-size="8.9" text-anchor="end" fill="#222" font-weight="normal" >0.8</text>
<line x1="37.20" y1="258.70" x2="41.50" y2="258.70" stroke="#6b6b6b" stroke-width="1" />
<text x="31.80" y="261.80" font-size="8.9" text-anchor="end" fill="#222" font-weight="normal" >1.2</text>
<line x1="37.20" y1="360.45" x2="39.80" y2="360.45" stroke="#6b6b6b" stroke-width="1" />
<line x1="37.20" y1="319.75" x2="39.80" y2="319.75" stroke="#6b6b6b" stroke-width="1" />
<line x1="37.20" y1="279.05" x2="39.80" y2="279.05" stroke="#6b6b6b" stroke-width="1" />
<line x1="37.20" y1="238.35" x2="39.80" y2="238.35" stroke="#6b6b6b" stroke-width="1" />
<line x1="52.50" y1="390.80" x2="52.50" y2="394.40" stroke="#6b6b6b" stroke-width="1" />
<text x="52.50" y="406.90" font-size="8.9" text-anchor="middle" fill="#222" font-weight="normal" >0</text>
<line x1="83.07" y1="390.80" x2="83.07" y2="394.40" stroke="#6b6b6b" stroke-width="1" />
<text x="83.07" y="406.90" font-size="8.9" text-anchor="middle" fill="#222" font-weight="normal" >100</text>
<line x1="113.64" y1="390.80" x2="113.64" y2="394.40" stroke="#6b6b6b" stroke-width="1" />
<text x="113.64" y="406.90" font-size="8.9" text-anchor="middle" fill="#222" font-weight="normal" >200</text>
<line x1="144.21" y1="390.80" x2="144.21" y2="394.40" stroke="#6b6b6b" stroke-width="1" />
<text x="144.21" y="406.90" font-size="8.9" text-anchor="middle" fill="#222" font-weight="normal" >300</text>
<line x1="174.78" y1="390.80" x2="174.78" y2="394.40" stroke="#6b6b6b" stroke-width="1" />
<text x="174.78" y="406.90" font-size="8.9" text-anchor="middle" fill="#222" font-weight="normal" >400</text>
<line x1="205.35" y1="390.80" x2="205.35" y2="394.40" stroke="#6b6b6b" stroke-width="1" />
<text x="205.35" y="406.90" font-size="8.9" text-anchor="middle" fill="#222" font-weight="normal" >500</text>
<line x1="37.21" y1="390.80" x2="37.21" y2="393.00" stroke="#6b6b6b" stroke-width="1" />
<line x1="67.78" y1="390.80" x2="67.78" y2="393.00" stroke="#6b6b6b" stroke-width="1" />
<line x1="98.36" y1="390.80" x2="98.36" y2="393.00" stroke="#6b6b6b" stroke-width="1" />
<line x1="128.93" y1="390.80" x2="128.93" y2="393.00" stroke="#6b6b6b" stroke-width="1" />
<line x1="159.50" y1="390.80" x2="159.50" y2="393.00" stroke="#6b6b6b" stroke-width="1" />
<line x1="190.07" y1="390.80" x2="190.07" y2="393.00" stroke="#6b6b6b" stroke-width="1" />
<line x1="220.64" y1="390.80" x2="220.64" y2="393.00" stroke="#6b6b6b" stroke-width="1" />
<text x="0.20" y="225.90" font-size="10.5" text-anchor="start" fill="#000" font-weight="bold" >d</text>
<text x="51.10" y="224.20" font-size="8.7" text-anchor="middle" fill="#222">×</text>
<text x="54.70" y="224.50" font-size="8.7" fill="#222">10</text>
<text x="64.70" y="219.50" font-size="5.8" fill="#222">3</text>
<text transform="translate(8.90,305.90) rotate(-90)" font-size="9.8" text-anchor="middle" fill="#222">Δ<tspan font-style="italic">l</tspan>/<tspan font-style="italic">l</tspan><tspan font-size="6.3" dy="1.3">0</tspan></text>
<text x="123.4" y="419.4" font-size="9.2" text-anchor="middle" fill="#222">Pressure (kPa)</text>
<polyline points="52.50,361.47 53.11,359.94 54.03,358.42 55.56,356.38 58.61,353.84 61.67,351.80 64.73,349.77 67.78,347.73 70.84,344.17 73.90,342.13 76.96,340.61 80.01,339.08 83.07,338.06 89.18,335.52 95.30,332.98 101.41,329.93 107.53,325.86 113.64,319.14 128.93,314.66 144.21,308.56 159.50,303.47 174.78,297.37 190.07,290.24 205.35,284.65" fill="none" stroke="#000" stroke-width="1.0" stroke-linejoin="round" />
<line x1="52.50" y1="359.97" x2="52.50" y2="362.97" stroke="#000" stroke-width="0.7" />
<line x1="50.70" y1="359.97" x2="54.30" y2="359.97" stroke="#000" stroke-width="0.7" />
<line x1="50.70" y1="362.97" x2="54.30" y2="362.97" stroke="#000" stroke-width="0.7" />
<line x1="54.03" y1="356.92" x2="54.03" y2="359.92" stroke="#000" stroke-width="0.7" />
<line x1="52.23" y1="356.92" x2="55.83" y2="356.92" stroke="#000" stroke-width="0.7" />
<line x1="52.23" y1="359.92" x2="55.83" y2="359.92" stroke="#000" stroke-width="0.7" />
<line x1="58.61" y1="352.34" x2="58.61" y2="355.34" stroke="#000" stroke-width="0.7" />
<line x1="56.81" y1="352.34" x2="60.41" y2="352.34" stroke="#000" stroke-width="0.7" />
<line x1="56.81" y1="355.34" x2="60.41" y2="355.34" stroke="#000" stroke-width="0.7" />
<line x1="64.73" y1="348.27" x2="64.73" y2="351.27" stroke="#000" stroke-width="0.7" />
<line x1="62.93" y1="348.27" x2="66.53" y2="348.27" stroke="#000" stroke-width="0.7" />
<line x1="62.93" y1="351.27" x2="66.53" y2="351.27" stroke="#000" stroke-width="0.7" />
<line x1="70.84" y1="342.67" x2="70.84" y2="345.67" stroke="#000" stroke-width="0.7" />
<line x1="69.04" y1="342.67" x2="72.64" y2="342.67" stroke="#000" stroke-width="0.7" />
<line x1="69.04" y1="345.67" x2="72.64" y2="345.67" stroke="#000" stroke-width="0.7" />
<line x1="76.96" y1="339.11" x2="76.96" y2="342.11" stroke="#000" stroke-width="0.7" />
<line x1="75.16" y1="339.11" x2="78.76" y2="339.11" stroke="#000" stroke-width="0.7" />
<line x1="75.16" y1="342.11" x2="78.76" y2="342.11" stroke="#000" stroke-width="0.7" />
<line x1="83.07" y1="336.56" x2="83.07" y2="339.56" stroke="#000" stroke-width="0.7" />
<line x1="81.27" y1="336.56" x2="84.87" y2="336.56" stroke="#000" stroke-width="0.7" />
<line x1="81.27" y1="339.56" x2="84.87" y2="339.56" stroke="#000" stroke-width="0.7" />
<line x1="95.30" y1="331.48" x2="95.30" y2="334.48" stroke="#000" stroke-width="0.7" />
<line x1="93.50" y1="331.48" x2="97.10" y2="331.48" stroke="#000" stroke-width="0.7" />
<line x1="93.50" y1="334.48" x2="97.10" y2="334.48" stroke="#000" stroke-width="0.7" />
<line x1="107.53" y1="324.36" x2="107.53" y2="327.36" stroke="#000" stroke-width="0.7" />
<line x1="105.73" y1="324.36" x2="109.33" y2="324.36" stroke="#000" stroke-width="0.7" />
<line x1="105.73" y1="327.36" x2="109.33" y2="327.36" stroke="#000" stroke-width="0.7" />
<line x1="113.64" y1="317.64" x2="113.64" y2="320.64" stroke="#000" stroke-width="0.7" />
<line x1="111.84" y1="317.64" x2="115.44" y2="317.64" stroke="#000" stroke-width="0.7" />
<line x1="111.84" y1="320.64" x2="115.44" y2="320.64" stroke="#000" stroke-width="0.7" />
<line x1="128.93" y1="313.16" x2="128.93" y2="316.16" stroke="#000" stroke-width="0.7" />
<line x1="127.13" y1="313.16" x2="130.73" y2="313.16" stroke="#000" stroke-width="0.7" />
<line x1="127.13" y1="316.16" x2="130.73" y2="316.16" stroke="#000" stroke-width="0.7" />
<line x1="144.21" y1="307.06" x2="144.21" y2="310.06" stroke="#000" stroke-width="0.7" />
<line x1="142.41" y1="307.06" x2="146.01" y2="307.06" stroke="#000" stroke-width="0.7" />
<line x1="142.41" y1="310.06" x2="146.01" y2="310.06" stroke="#000" stroke-width="0.7" />
<line x1="159.50" y1="301.97" x2="159.50" y2="304.97" stroke="#000" stroke-width="0.7" />
<line x1="157.69" y1="301.97" x2="161.30" y2="301.97" stroke="#000" stroke-width="0.7" />
<line x1="157.69" y1="304.97" x2="161.30" y2="304.97" stroke="#000" stroke-width="0.7" />
<line x1="174.78" y1="295.87" x2="174.78" y2="298.87" stroke="#000" stroke-width="0.7" />
<line x1="172.98" y1="295.87" x2="176.58" y2="295.87" stroke="#000" stroke-width="0.7" />
<line x1="172.98" y1="298.87" x2="176.58" y2="298.87" stroke="#000" stroke-width="0.7" />
<line x1="190.07" y1="288.74" x2="190.07" y2="291.74" stroke="#000" stroke-width="0.7" />
<line x1="188.27" y1="288.74" x2="191.87" y2="288.74" stroke="#000" stroke-width="0.7" />
<line x1="188.27" y1="291.74" x2="191.87" y2="291.74" stroke="#000" stroke-width="0.7" />
<line x1="205.35" y1="283.15" x2="205.35" y2="286.15" stroke="#000" stroke-width="0.7" />
<line x1="203.55" y1="283.15" x2="207.15" y2="283.15" stroke="#000" stroke-width="0.7" />
<line x1="203.55" y1="286.15" x2="207.15" y2="286.15" stroke="#000" stroke-width="0.7" />
<polyline points="52.50,362.49 53.11,360.95 54.03,359.42 55.56,357.38 58.61,354.81 61.67,352.76 64.73,350.70 67.78,349.16 70.84,347.61 73.90,346.06 76.96,344.52 80.01,342.97 83.07,341.42 89.18,338.84 95.30,336.25 101.41,333.67 107.53,330.58 113.64,327.48 128.93,320.77 144.21,314.05 159.50,307.34 174.78,300.11 190.07,292.89 205.35,285.16" fill="none" stroke="#e86a6a" stroke-width="1.0" stroke-linejoin="round" />
<line x1="52.50" y1="360.99" x2="52.50" y2="363.99" stroke="#e86a6a" stroke-width="0.7" />
<line x1="50.70" y1="360.99" x2="54.30" y2="360.99" stroke="#e86a6a" stroke-width="0.7" />
<line x1="50.70" y1="363.99" x2="54.30" y2="363.99" stroke="#e86a6a" stroke-width="0.7" />
<line x1="54.03" y1="357.92" x2="54.03" y2="360.92" stroke="#e86a6a" stroke-width="0.7" />
<line x1="52.23" y1="357.92" x2="55.83" y2="357.92" stroke="#e86a6a" stroke-width="0.7" />
<line x1="52.23" y1="360.92" x2="55.83" y2="360.92" stroke="#e86a6a" stroke-width="0.7" />
<line x1="58.61" y1="353.31" x2="58.61" y2="356.31" stroke="#e86a6a" stroke-width="0.7" />
<line x1="56.81" y1="353.31" x2="60.41" y2="353.31" stroke="#e86a6a" stroke-width="0.7" />
<line x1="56.81" y1="356.31" x2="60.41" y2="356.31" stroke="#e86a6a" stroke-width="0.7" />
<line x1="64.73" y1="349.20" x2="64.73" y2="352.20" stroke="#e86a6a" stroke-width="0.7" />
<line x1="62.93" y1="349.20" x2="66.53" y2="349.20" stroke="#e86a6a" stroke-width="0.7" />
<line x1="62.93" y1="352.20" x2="66.53" y2="352.20" stroke="#e86a6a" stroke-width="0.7" />
<line x1="70.84" y1="346.11" x2="70.84" y2="349.11" stroke="#e86a6a" stroke-width="0.7" />
<line x1="69.04" y1="346.11" x2="72.64" y2="346.11" stroke="#e86a6a" stroke-width="0.7" />
<line x1="69.04" y1="349.11" x2="72.64" y2="349.11" stroke="#e86a6a" stroke-width="0.7" />
<line x1="76.96" y1="343.02" x2="76.96" y2="346.02" stroke="#e86a6a" stroke-width="0.7" />
<line x1="75.16" y1="343.02" x2="78.76" y2="343.02" stroke="#e86a6a" stroke-width="0.7" />
<line x1="75.16" y1="346.02" x2="78.76" y2="346.02" stroke="#e86a6a" stroke-width="0.7" />
<line x1="83.07" y1="339.92" x2="83.07" y2="342.92" stroke="#e86a6a" stroke-width="0.7" />
<line x1="81.27" y1="339.92" x2="84.87" y2="339.92" stroke="#e86a6a" stroke-width="0.7" />
<line x1="81.27" y1="342.92" x2="84.87" y2="342.92" stroke="#e86a6a" stroke-width="0.7" />
<line x1="95.30" y1="334.75" x2="95.30" y2="337.75" stroke="#e86a6a" stroke-width="0.7" />
<line x1="93.50" y1="334.75" x2="97.10" y2="334.75" stroke="#e86a6a" stroke-width="0.7" />
<line x1="93.50" y1="337.75" x2="97.10" y2="337.75" stroke="#e86a6a" stroke-width="0.7" />
<line x1="107.53" y1="329.08" x2="107.53" y2="332.08" stroke="#e86a6a" stroke-width="0.7" />
<line x1="105.73" y1="329.08" x2="109.33" y2="329.08" stroke="#e86a6a" stroke-width="0.7" />
<line x1="105.73" y1="332.08" x2="109.33" y2="332.08" stroke="#e86a6a" stroke-width="0.7" />
<line x1="113.64" y1="325.98" x2="113.64" y2="328.98" stroke="#e86a6a" stroke-width="0.7" />
<line x1="111.84" y1="325.98" x2="115.44" y2="325.98" stroke="#e86a6a" stroke-width="0.7" />
<line x1="111.84" y1="328.98" x2="115.44" y2="328.98" stroke="#e86a6a" stroke-width="0.7" />
<line x1="128.93" y1="319.27" x2="128.93" y2="322.27" stroke="#e86a6a" stroke-width="0.7" />
<line x1="127.13" y1="319.27" x2="130.73" y2="319.27" stroke="#e86a6a" stroke-width="0.7" />
<line x1="127.13" y1="322.27" x2="130.73" y2="322.27" stroke="#e86a6a" stroke-width="0.7" />
<line x1="144.21" y1="312.55" x2="144.21" y2="315.55" stroke="#e86a6a" stroke-width="0.7" />
<line x1="142.41" y1="312.55" x2="146.01" y2="312.55" stroke="#e86a6a" stroke-width="0.7" />
<line x1="142.41" y1="315.55" x2="146.01" y2="315.55" stroke="#e86a6a" stroke-width="0.7" />
<line x1="159.50" y1="305.84" x2="159.50" y2="308.84" stroke="#e86a6a" stroke-width="0.7" />
<line x1="157.69" y1="305.84" x2="161.30" y2="305.84" stroke="#e86a6a" stroke-width="0.7" />
<line x1="157.69" y1="308.84" x2="161.30" y2="308.84" stroke="#e86a6a" stroke-width="0.7" />
<line x1="174.78" y1="298.61" x2="174.78" y2="301.61" stroke="#e86a6a" stroke-width="0.7" />
<line x1="172.98" y1="298.61" x2="176.58" y2="298.61" stroke="#e86a6a" stroke-width="0.7" />
<line x1="172.98" y1="301.61" x2="176.58" y2="301.61" stroke="#e86a6a" stroke-width="0.7" />
<line x1="190.07" y1="291.39" x2="190.07" y2="294.39" stroke="#e86a6a" stroke-width="0.7" />
<line x1="188.27" y1="291.39" x2="191.87" y2="291.39" stroke="#e86a6a" stroke-width="0.7" />
<line x1="188.27" y1="294.39" x2="191.87" y2="294.39" stroke="#e86a6a" stroke-width="0.7" />
<line x1="205.35" y1="283.66" x2="205.35" y2="286.66" stroke="#e86a6a" stroke-width="0.7" />
<line x1="203.55" y1="283.66" x2="207.15" y2="283.66" stroke="#e86a6a" stroke-width="0.7" />
<line x1="203.55" y1="286.66" x2="207.15" y2="286.66" stroke="#e86a6a" stroke-width="0.7" />
<polyline points="52.50,361.98 53.11,360.45 54.03,358.92 55.56,356.88 58.61,354.32 61.67,352.28 64.73,350.23 67.78,348.70 70.84,347.16 73.90,345.63 76.96,344.09 80.01,342.55 83.07,341.02 89.18,338.45 95.30,335.89 101.41,333.32 107.53,330.25 113.64,327.18 128.93,320.51 144.21,313.85 159.50,307.18 174.78,300.01 190.07,292.84 205.35,285.16" fill="none" stroke="#4a7cc0" stroke-width="1.0" stroke-linejoin="round" />
<line x1="52.50" y1="360.48" x2="52.50" y2="363.48" stroke="#4a7cc0" stroke-width="0.7" />
<line x1="50.70" y1="360.48" x2="54.30" y2="360.48" stroke="#4a7cc0" stroke-width="0.7" />
<line x1="50.70" y1="363.48" x2="54.30" y2="363.48" stroke="#4a7cc0" stroke-width="0.7" />
<line x1="54.03" y1="357.42" x2="54.03" y2="360.42" stroke="#4a7cc0" stroke-width="0.7" />
<line x1="52.23" y1="357.42" x2="55.83" y2="357.42" stroke="#4a7cc0" stroke-width="0.7" />
<line x1="52.23" y1="360.42" x2="55.83" y2="360.42" stroke="#4a7cc0" stroke-width="0.7" />
<line x1="58.61" y1="352.82" x2="58.61" y2="355.82" stroke="#4a7cc0" stroke-width="0.7" />
<line x1="56.81" y1="352.82" x2="60.41" y2="352.82" stroke="#4a7cc0" stroke-width="0.7" />
<line x1="56.81" y1="355.82" x2="60.41" y2="355.82" stroke="#4a7cc0" stroke-width="0.7" />
<line x1="64.73" y1="348.73" x2="64.73" y2="351.73" stroke="#4a7cc0" stroke-width="0.7" />
<line x1="62.93" y1="348.73" x2="66.53" y2="348.73" stroke="#4a7cc0" stroke-width="0.7" />
<line x1="62.93" y1="351.73" x2="66.53" y2="351.73" stroke="#4a7cc0" stroke-width="0.7" />
<line x1="70.84" y1="345.66" x2="70.84" y2="348.66" stroke="#4a7cc0" stroke-width="0.7" />
<line x1="69.04" y1="345.66" x2="72.64" y2="345.66" stroke="#4a7cc0" stroke-width="0.7" />
<line x1="69.04" y1="348.66" x2="72.64" y2="348.66" stroke="#4a7cc0" stroke-width="0.7" />
<line x1="76.96" y1="342.59" x2="76.96" y2="345.59" stroke="#4a7cc0" stroke-width="0.7" />
<line x1="75.16" y1="342.59" x2="78.76" y2="342.59" stroke="#4a7cc0" stroke-width="0.7" />
<line x1="75.16" y1="345.59" x2="78.76" y2="345.59" stroke="#4a7cc0" stroke-width="0.7" />
<line x1="83.07" y1="339.52" x2="83.07" y2="342.52" stroke="#4a7cc0" stroke-width="0.7" />
<line x1="81.27" y1="339.52" x2="84.87" y2="339.52" stroke="#4a7cc0" stroke-width="0.7" />
<line x1="81.27" y1="342.52" x2="84.87" y2="342.52" stroke="#4a7cc0" stroke-width="0.7" />
<line x1="95.30" y1="334.39" x2="95.30" y2="337.39" stroke="#4a7cc0" stroke-width="0.7" />
<line x1="93.50" y1="334.39" x2="97.10" y2="334.39" stroke="#4a7cc0" stroke-width="0.7" />
<line x1="93.50" y1="337.39" x2="97.10" y2="337.39" stroke="#4a7cc0" stroke-width="0.7" />
<line x1="107.53" y1="328.75" x2="107.53" y2="331.75" stroke="#4a7cc0" stroke-width="0.7" />
<line x1="105.73" y1="328.75" x2="109.33" y2="328.75" stroke="#4a7cc0" stroke-width="0.7" />
<line x1="105.73" y1="331.75" x2="109.33" y2="331.75" stroke="#4a7cc0" stroke-width="0.7" />
<line x1="113.64" y1="325.68" x2="113.64" y2="328.68" stroke="#4a7cc0" stroke-width="0.7" />
<line x1="111.84" y1="325.68" x2="115.44" y2="325.68" stroke="#4a7cc0" stroke-width="0.7" />
<line x1="111.84" y1="328.68" x2="115.44" y2="328.68" stroke="#4a7cc0" stroke-width="0.7" />
<line x1="128.93" y1="319.01" x2="128.93" y2="322.01" stroke="#4a7cc0" stroke-width="0.7" />
<line x1="127.13" y1="319.01" x2="130.73" y2="319.01" stroke="#4a7cc0" stroke-width="0.7" />
<line x1="127.13" y1="322.01" x2="130.73" y2="322.01" stroke="#4a7cc0" stroke-width="0.7" />
<line x1="144.21" y1="312.35" x2="144.21" y2="315.35" stroke="#4a7cc0" stroke-width="0.7" />
<line x1="142.41" y1="312.35" x2="146.01" y2="312.35" stroke="#4a7cc0" stroke-width="0.7" />
<line x1="142.41" y1="315.35" x2="146.01" y2="315.35" stroke="#4a7cc0" stroke-width="0.7" />
<line x1="159.50" y1="305.68" x2="159.50" y2="308.68" stroke="#4a7cc0" stroke-width="0.7" />
<line x1="157.69" y1="305.68" x2="161.30" y2="305.68" stroke="#4a7cc0" stroke-width="0.7" />
<line x1="157.69" y1="308.68" x2="161.30" y2="308.68" stroke="#4a7cc0" stroke-width="0.7" />
<line x1="174.78" y1="298.51" x2="174.78" y2="301.51" stroke="#4a7cc0" stroke-width="0.7" />
<line x1="172.98" y1="298.51" x2="176.58" y2="298.51" stroke="#4a7cc0" stroke-width="0.7" />
<line x1="172.98" y1="301.51" x2="176.58" y2="301.51" stroke="#4a7cc0" stroke-width="0.7" />
<line x1="190.07" y1="291.34" x2="190.07" y2="294.34" stroke="#4a7cc0" stroke-width="0.7" />
<line x1="188.27" y1="291.34" x2="191.87" y2="291.34" stroke="#4a7cc0" stroke-width="0.7" />
<line x1="188.27" y1="294.34" x2="191.87" y2="294.34" stroke="#4a7cc0" stroke-width="0.7" />
<line x1="205.35" y1="283.66" x2="205.35" y2="286.66" stroke="#4a7cc0" stroke-width="0.7" />
<line x1="203.55" y1="283.66" x2="207.15" y2="283.66" stroke="#4a7cc0" stroke-width="0.7" />
<line x1="203.55" y1="286.66" x2="207.15" y2="286.66" stroke="#4a7cc0" stroke-width="0.7" />
<polyline points="52.50,364.52 53.11,362.98 54.03,361.44 55.56,359.37 58.61,356.77 61.67,354.67 64.73,352.57 67.78,350.99 70.84,349.40 73.90,347.81 76.96,346.23 80.01,344.64 83.07,343.05 89.18,340.38 95.30,337.72 101.41,335.05 107.53,331.88 113.64,328.70 128.93,321.79 144.21,314.87 159.50,307.95 174.78,300.52 190.07,293.09 205.35,285.16" fill="none" stroke="#f07050" stroke-width="1.0" stroke-linejoin="round" />
<line x1="52.50" y1="363.02" x2="52.50" y2="366.02" stroke="#f07050" stroke-width="0.7" />
<line x1="50.70" y1="363.02" x2="54.30" y2="363.02" stroke="#f07050" stroke-width="0.7" />
<line x1="50.70" y1="366.02" x2="54.30" y2="366.02" stroke="#f07050" stroke-width="0.7" />
<line x1="54.03" y1="359.94" x2="54.03" y2="362.94" stroke="#f07050" stroke-width="0.7" />
<line x1="52.23" y1="359.94" x2="55.83" y2="359.94" stroke="#f07050" stroke-width="0.7" />
<line x1="52.23" y1="362.94" x2="55.83" y2="362.94" stroke="#f07050" stroke-width="0.7" />
<line x1="58.61" y1="355.27" x2="58.61" y2="358.27" stroke="#f07050" stroke-width="0.7" />
<line x1="56.81" y1="355.27" x2="60.41" y2="355.27" stroke="#f07050" stroke-width="0.7" />
<line x1="56.81" y1="358.27" x2="60.41" y2="358.27" stroke="#f07050" stroke-width="0.7" />
<line x1="64.73" y1="351.07" x2="64.73" y2="354.07" stroke="#f07050" stroke-width="0.7" />
<line x1="62.93" y1="351.07" x2="66.53" y2="351.07" stroke="#f07050" stroke-width="0.7" />
<line x1="62.93" y1="354.07" x2="66.53" y2="354.07" stroke="#f07050" stroke-width="0.7" />
<line x1="70.84" y1="347.90" x2="70.84" y2="350.90" stroke="#f07050" stroke-width="0.7" />
<line x1="69.04" y1="347.90" x2="72.64" y2="347.90" stroke="#f07050" stroke-width="0.7" />
<line x1="69.04" y1="350.90" x2="72.64" y2="350.90" stroke="#f07050" stroke-width="0.7" />
<line x1="76.96" y1="344.73" x2="76.96" y2="347.73" stroke="#f07050" stroke-width="0.7" />
<line x1="75.16" y1="344.73" x2="78.76" y2="344.73" stroke="#f07050" stroke-width="0.7" />
<line x1="75.16" y1="347.73" x2="78.76" y2="347.73" stroke="#f07050" stroke-width="0.7" />
<line x1="83.07" y1="341.55" x2="83.07" y2="344.55" stroke="#f07050" stroke-width="0.7" />
<line x1="81.27" y1="341.55" x2="84.87" y2="341.55" stroke="#f07050" stroke-width="0.7" />
<line x1="81.27" y1="344.55" x2="84.87" y2="344.55" stroke="#f07050" stroke-width="0.7" />
<line x1="95.30" y1="336.22" x2="95.30" y2="339.22" stroke="#f07050" stroke-width="0.7" />
<line x1="93.50" y1="336.22" x2="97.10" y2="336.22" stroke="#f07050" stroke-width="0.7" />
<line x1="93.50" y1="339.22" x2="97.10" y2="339.22" stroke="#f07050" stroke-width="0.7" />
<line x1="107.53" y1="330.38" x2="107.53" y2="333.38" stroke="#f07050" stroke-width="0.7" />
<line x1="105.73" y1="330.38" x2="109.33" y2="330.38" stroke="#f07050" stroke-width="0.7" />
<line x1="105.73" y1="333.38" x2="109.33" y2="333.38" stroke="#f07050" stroke-width="0.7" />
<line x1="113.64" y1="327.20" x2="113.64" y2="330.20" stroke="#f07050" stroke-width="0.7" />
<line x1="111.84" y1="327.20" x2="115.44" y2="327.20" stroke="#f07050" stroke-width="0.7" />
<line x1="111.84" y1="330.20" x2="115.44" y2="330.20" stroke="#f07050" stroke-width="0.7" />
<line x1="128.93" y1="320.29" x2="128.93" y2="323.29" stroke="#f07050" stroke-width="0.7" />
<line x1="127.13" y1="320.29" x2="130.73" y2="320.29" stroke="#f07050" stroke-width="0.7" />
<line x1="127.13" y1="323.29" x2="130.73" y2="323.29" stroke="#f07050" stroke-width="0.7" />
<line x1="144.21" y1="313.37" x2="144.21" y2="316.37" stroke="#f07050" stroke-width="0.7" />
<line x1="142.41" y1="313.37" x2="146.01" y2="313.37" stroke="#f07050" stroke-width="0.7" />
<line x1="142.41" y1="316.37" x2="146.01" y2="316.37" stroke="#f07050" stroke-width="0.7" />
<line x1="159.50" y1="306.45" x2="159.50" y2="309.45" stroke="#f07050" stroke-width="0.7" />
<line x1="157.69" y1="306.45" x2="161.30" y2="306.45" stroke="#f07050" stroke-width="0.7" />
<line x1="157.69" y1="309.45" x2="161.30" y2="309.45" stroke="#f07050" stroke-width="0.7" />
<line x1="174.78" y1="299.02" x2="174.78" y2="302.02" stroke="#f07050" stroke-width="0.7" />
<line x1="172.98" y1="299.02" x2="176.58" y2="299.02" stroke="#f07050" stroke-width="0.7" />
<line x1="172.98" y1="302.02" x2="176.58" y2="302.02" stroke="#f07050" stroke-width="0.7" />
<line x1="190.07" y1="291.59" x2="190.07" y2="294.59" stroke="#f07050" stroke-width="0.7" />
<line x1="188.27" y1="291.59" x2="191.87" y2="291.59" stroke="#f07050" stroke-width="0.7" />
<line x1="188.27" y1="294.59" x2="191.87" y2="294.59" stroke="#f07050" stroke-width="0.7" />
<line x1="205.35" y1="283.66" x2="205.35" y2="286.66" stroke="#f07050" stroke-width="0.7" />
<line x1="203.55" y1="283.66" x2="207.15" y2="283.66" stroke="#f07050" stroke-width="0.7" />
<line x1="203.55" y1="286.66" x2="207.15" y2="286.66" stroke="#f07050" stroke-width="0.7" />
<polyline points="52.50,361.47 53.11,359.94 54.03,358.42 55.56,356.38 58.61,353.84 61.67,351.80 64.73,349.77 67.78,348.24 70.84,346.71 73.90,345.19 76.96,343.66 80.01,342.13 83.07,340.61 89.18,338.06 95.30,335.52 101.41,332.98 107.53,329.93 113.64,326.87 128.93,320.26 144.21,313.64 159.50,307.03 174.78,299.91 190.07,292.79 205.35,285.16" fill="none" stroke="#80b4e0" stroke-width="1.0" stroke-linejoin="round" />
<line x1="52.50" y1="359.97" x2="52.50" y2="362.97" stroke="#80b4e0" stroke-width="0.7" />
<line x1="50.70" y1="359.97" x2="54.30" y2="359.97" stroke="#80b4e0" stroke-width="0.7" />
<line x1="50.70" y1="362.97" x2="54.30" y2="362.97" stroke="#80b4e0" stroke-width="0.7" />
<line x1="54.03" y1="356.92" x2="54.03" y2="359.92" stroke="#80b4e0" stroke-width="0.7" />
<line x1="52.23" y1="356.92" x2="55.83" y2="356.92" stroke="#80b4e0" stroke-width="0.7" />
<line x1="52.23" y1="359.92" x2="55.83" y2="359.92" stroke="#80b4e0" stroke-width="0.7" />
<line x1="58.61" y1="352.34" x2="58.61" y2="355.34" stroke="#80b4e0" stroke-width="0.7" />
<line x1="56.81" y1="352.34" x2="60.41" y2="352.34" stroke="#80b4e0" stroke-width="0.7" />
<line x1="56.81" y1="355.34" x2="60.41" y2="355.34" stroke="#80b4e0" stroke-width="0.7" />
<line x1="64.73" y1="348.27" x2="64.73" y2="351.27" stroke="#80b4e0" stroke-width="0.7" />
<line x1="62.93" y1="348.27" x2="66.53" y2="348.27" stroke="#80b4e0" stroke-width="0.7" />
<line x1="62.93" y1="351.27" x2="66.53" y2="351.27" stroke="#80b4e0" stroke-width="0.7" />
<line x1="70.84" y1="345.21" x2="70.84" y2="348.21" stroke="#80b4e0" stroke-width="0.7" />
<line x1="69.04" y1="345.21" x2="72.64" y2="345.21" stroke="#80b4e0" stroke-width="0.7" />
<line x1="69.04" y1="348.21" x2="72.64" y2="348.21" stroke="#80b4e0" stroke-width="0.7" />
<line x1="76.96" y1="342.16" x2="76.96" y2="345.16" stroke="#80b4e0" stroke-width="0.7" />
<line x1="75.16" y1="342.16" x2="78.76" y2="342.16" stroke="#80b4e0" stroke-width="0.7" />
<line x1="75.16" y1="345.16" x2="78.76" y2="345.16" stroke="#80b4e0" stroke-width="0.7" />
<line x1="83.07" y1="339.11" x2="83.07" y2="342.11" stroke="#80b4e0" stroke-width="0.7" />
<line x1="81.27" y1="339.11" x2="84.87" y2="339.11" stroke="#80b4e0" stroke-width="0.7" />
<line x1="81.27" y1="342.11" x2="84.87" y2="342.11" stroke="#80b4e0" stroke-width="0.7" />
<line x1="95.30" y1="334.02" x2="95.30" y2="337.02" stroke="#80b4e0" stroke-width="0.7" />
<line x1="93.50" y1="334.02" x2="97.10" y2="334.02" stroke="#80b4e0" stroke-width="0.7" />
<line x1="93.50" y1="337.02" x2="97.10" y2="337.02" stroke="#80b4e0" stroke-width="0.7" />
<line x1="107.53" y1="328.43" x2="107.53" y2="331.43" stroke="#80b4e0" stroke-width="0.7" />
<line x1="105.73" y1="328.43" x2="109.33" y2="328.43" stroke="#80b4e0" stroke-width="0.7" />
<line x1="105.73" y1="331.43" x2="109.33" y2="331.43" stroke="#80b4e0" stroke-width="0.7" />
<line x1="113.64" y1="325.37" x2="113.64" y2="328.37" stroke="#80b4e0" stroke-width="0.7" />
<line x1="111.84" y1="325.37" x2="115.44" y2="325.37" stroke="#80b4e0" stroke-width="0.7" />
<line x1="111.84" y1="328.37" x2="115.44" y2="328.37" stroke="#80b4e0" stroke-width="0.7" />
<line x1="128.93" y1="318.76" x2="128.93" y2="321.76" stroke="#80b4e0" stroke-width="0.7" />
<line x1="127.13" y1="318.76" x2="130.73" y2="318.76" stroke="#80b4e0" stroke-width="0.7" />
<line x1="127.13" y1="321.76" x2="130.73" y2="321.76" stroke="#80b4e0" stroke-width="0.7" />
<line x1="144.21" y1="312.14" x2="144.21" y2="315.14" stroke="#80b4e0" stroke-width="0.7" />
<line x1="142.41" y1="312.14" x2="146.01" y2="312.14" stroke="#80b4e0" stroke-width="0.7" />
<line x1="142.41" y1="315.14" x2="146.01" y2="315.14" stroke="#80b4e0" stroke-width="0.7" />
<line x1="159.50" y1="305.53" x2="159.50" y2="308.53" stroke="#80b4e0" stroke-width="0.7" />
<line x1="157.69" y1="305.53" x2="161.30" y2="305.53" stroke="#80b4e0" stroke-width="0.7" />
<line x1="157.69" y1="308.53" x2="161.30" y2="308.53" stroke="#80b4e0" stroke-width="0.7" />
<line x1="174.78" y1="298.41" x2="174.78" y2="301.41" stroke="#80b4e0" stroke-width="0.7" />
<line x1="172.98" y1="298.41" x2="176.58" y2="298.41" stroke="#80b4e0" stroke-width="0.7" />
<line x1="172.98" y1="301.41" x2="176.58" y2="301.41" stroke="#80b4e0" stroke-width="0.7" />
<line x1="190.07" y1="291.29" x2="190.07" y2="294.29" stroke="#80b4e0" stroke-width="0.7" />
<line x1="188.27" y1="291.29" x2="191.87" y2="291.29" stroke="#80b4e0" stroke-width="0.7" />
<line x1="188.27" y1="294.29" x2="191.87" y2="294.29" stroke="#80b4e0" stroke-width="0.7" />
<line x1="205.35" y1="283.66" x2="205.35" y2="286.66" stroke="#80b4e0" stroke-width="0.7" />
<line x1="203.55" y1="283.66" x2="207.15" y2="283.66" stroke="#80b4e0" stroke-width="0.7" />
<line x1="203.55" y1="286.66" x2="207.15" y2="286.66" stroke="#80b4e0" stroke-width="0.7" />
<polyline points="52.50,365.03 53.11,363.49 54.03,361.94 55.56,359.87 58.61,357.26 61.67,355.15 64.73,353.04 67.78,351.45 70.84,349.85 73.90,348.25 76.96,346.65 80.01,345.06 83.07,343.46 89.18,340.77 95.30,338.09 101.41,335.40 107.53,332.20 113.64,329.01 128.93,322.04 144.21,315.07 159.50,308.10 174.78,300.62 190.07,293.14 205.35,285.16" fill="none" stroke="#f8b070" stroke-width="1.0" stroke-linejoin="round" />
<line x1="52.50" y1="363.53" x2="52.50" y2="366.53" stroke="#f8b070" stroke-width="0.7" />
<line x1="50.70" y1="363.53" x2="54.30" y2="363.53" stroke="#f8b070" stroke-width="0.7" />
<line x1="50.70" y1="366.53" x2="54.30" y2="366.53" stroke="#f8b070" stroke-width="0.7" />
<line x1="54.03" y1="360.44" x2="54.03" y2="363.44" stroke="#f8b070" stroke-width="0.7" />
<line x1="52.23" y1="360.44" x2="55.83" y2="360.44" stroke="#f8b070" stroke-width="0.7" />
<line x1="52.23" y1="363.44" x2="55.83" y2="363.44" stroke="#f8b070" stroke-width="0.7" />
<line x1="58.61" y1="355.76" x2="58.61" y2="358.76" stroke="#f8b070" stroke-width="0.7" />
<line x1="56.81" y1="355.76" x2="60.41" y2="355.76" stroke="#f8b070" stroke-width="0.7" />
<line x1="56.81" y1="358.76" x2="60.41" y2="358.76" stroke="#f8b070" stroke-width="0.7" />
<line x1="64.73" y1="351.54" x2="64.73" y2="354.54" stroke="#f8b070" stroke-width="0.7" />
<line x1="62.93" y1="351.54" x2="66.53" y2="351.54" stroke="#f8b070" stroke-width="0.7" />
<line x1="62.93" y1="354.54" x2="66.53" y2="354.54" stroke="#f8b070" stroke-width="0.7" />
<line x1="70.84" y1="348.35" x2="70.84" y2="351.35" stroke="#f8b070" stroke-width="0.7" />
<line x1="69.04" y1="348.35" x2="72.64" y2="348.35" stroke="#f8b070" stroke-width="0.7" />
<line x1="69.04" y1="351.35" x2="72.64" y2="351.35" stroke="#f8b070" stroke-width="0.7" />
<line x1="76.96" y1="345.15" x2="76.96" y2="348.15" stroke="#f8b070" stroke-width="0.7" />
<line x1="75.16" y1="345.15" x2="78.76" y2="345.15" stroke="#f8b070" stroke-width="0.7" />
<line x1="75.16" y1="348.15" x2="78.76" y2="348.15" stroke="#f8b070" stroke-width="0.7" />
<line x1="83.07" y1="341.96" x2="83.07" y2="344.96" stroke="#f8b070" stroke-width="0.7" />
<line x1="81.27" y1="341.96" x2="84.87" y2="341.96" stroke="#f8b070" stroke-width="0.7" />
<line x1="81.27" y1="344.96" x2="84.87" y2="344.96" stroke="#f8b070" stroke-width="0.7" />
<line x1="95.30" y1="336.59" x2="95.30" y2="339.59" stroke="#f8b070" stroke-width="0.7" />
<line x1="93.50" y1="336.59" x2="97.10" y2="336.59" stroke="#f8b070" stroke-width="0.7" />
<line x1="93.50" y1="339.59" x2="97.10" y2="339.59" stroke="#f8b070" stroke-width="0.7" />
<line x1="107.53" y1="330.70" x2="107.53" y2="333.70" stroke="#f8b070" stroke-width="0.7" />
<line x1="105.73" y1="330.70" x2="109.33" y2="330.70" stroke="#f8b070" stroke-width="0.7" />
<line x1="105.73" y1="333.70" x2="109.33" y2="333.70" stroke="#f8b070" stroke-width="0.7" />
<line x1="113.64" y1="327.51" x2="113.64" y2="330.51" stroke="#f8b070" stroke-width="0.7" />
<line x1="111.84" y1="327.51" x2="115.44" y2="327.51" stroke="#f8b070" stroke-width="0.7" />
<line x1="111.84" y1="330.51" x2="115.44" y2="330.51" stroke="#f8b070" stroke-width="0.7" />
<line x1="128.93" y1="320.54" x2="128.93" y2="323.54" stroke="#f8b070" stroke-width="0.7" />
<line x1="127.13" y1="320.54" x2="130.73" y2="320.54" stroke="#f8b070" stroke-width="0.7" />
<line x1="127.13" y1="323.54" x2="130.73" y2="323.54" stroke="#f8b070" stroke-width="0.7" />
<line x1="144.21" y1="313.57" x2="144.21" y2="316.57" stroke="#f8b070" stroke-width="0.7" />
<line x1="142.41" y1="313.57" x2="146.01" y2="313.57" stroke="#f8b070" stroke-width="0.7" />
<line x1="142.41" y1="316.57" x2="146.01" y2="316.57" stroke="#f8b070" stroke-width="0.7" />
<line x1="159.50" y1="306.60" x2="159.50" y2="309.60" stroke="#f8b070" stroke-width="0.7" />
<line x1="157.69" y1="306.60" x2="161.30" y2="306.60" stroke="#f8b070" stroke-width="0.7" />
<line x1="157.69" y1="309.60" x2="161.30" y2="309.60" stroke="#f8b070" stroke-width="0.7" />
<line x1="174.78" y1="299.12" x2="174.78" y2="302.12" stroke="#f8b070" stroke-width="0.7" />
<line x1="172.98" y1="299.12" x2="176.58" y2="299.12" stroke="#f8b070" stroke-width="0.7" />
<line x1="172.98" y1="302.12" x2="176.58" y2="302.12" stroke="#f8b070" stroke-width="0.7" />
<line x1="190.07" y1="291.64" x2="190.07" y2="294.64" stroke="#f8b070" stroke-width="0.7" />
<line x1="188.27" y1="291.64" x2="191.87" y2="291.64" stroke="#f8b070" stroke-width="0.7" />
<line x1="188.27" y1="294.64" x2="191.87" y2="294.64" stroke="#f8b070" stroke-width="0.7" />
<line x1="205.35" y1="283.66" x2="205.35" y2="286.66" stroke="#f8b070" stroke-width="0.7" />
<line x1="203.55" y1="283.66" x2="207.15" y2="283.66" stroke="#f8b070" stroke-width="0.7" />
<line x1="203.55" y1="286.66" x2="207.15" y2="286.66" stroke="#f8b070" stroke-width="0.7" />
<polyline points="52.50,360.96 53.11,359.43 54.03,357.91 55.56,355.88 58.61,353.35 61.67,351.32 64.73,349.30 67.78,347.78 70.84,346.27 73.90,344.75 76.96,343.23 80.01,341.72 83.07,340.20 89.18,337.68 95.30,335.15 101.41,332.63 107.53,329.60 113.64,326.57 128.93,320.00 144.21,313.44 159.50,306.88 174.78,299.81 190.07,292.74 205.35,285.16" fill="none" stroke="#a8d4f0" stroke-width="1.0" stroke-linejoin="round" />
<line x1="52.50" y1="359.46" x2="52.50" y2="362.46" stroke="#a8d4f0" stroke-width="0.7" />
<line x1="50.70" y1="359.46" x2="54.30" y2="359.46" stroke="#a8d4f0" stroke-width="0.7" />
<line x1="50.70" y1="362.46" x2="54.30" y2="362.46" stroke="#a8d4f0" stroke-width="0.7" />
<line x1="54.03" y1="356.41" x2="54.03" y2="359.41" stroke="#a8d4f0" stroke-width="0.7" />
<line x1="52.23" y1="356.41" x2="55.83" y2="356.41" stroke="#a8d4f0" stroke-width="0.7" />
<line x1="52.23" y1="359.41" x2="55.83" y2="359.41" stroke="#a8d4f0" stroke-width="0.7" />
<line x1="58.61" y1="351.85" x2="58.61" y2="354.85" stroke="#a8d4f0" stroke-width="0.7" />
<line x1="56.81" y1="351.85" x2="60.41" y2="351.85" stroke="#a8d4f0" stroke-width="0.7" />
<line x1="56.81" y1="354.85" x2="60.41" y2="354.85" stroke="#a8d4f0" stroke-width="0.7" />
<line x1="64.73" y1="347.80" x2="64.73" y2="350.80" stroke="#a8d4f0" stroke-width="0.7" />
<line x1="62.93" y1="347.80" x2="66.53" y2="347.80" stroke="#a8d4f0" stroke-width="0.7" />
<line x1="62.93" y1="350.80" x2="66.53" y2="350.80" stroke="#a8d4f0" stroke-width="0.7" />
<line x1="70.84" y1="344.77" x2="70.84" y2="347.77" stroke="#a8d4f0" stroke-width="0.7" />
<line x1="69.04" y1="344.77" x2="72.64" y2="344.77" stroke="#a8d4f0" stroke-width="0.7" />
<line x1="69.04" y1="347.77" x2="72.64" y2="347.77" stroke="#a8d4f0" stroke-width="0.7" />
<line x1="76.96" y1="341.73" x2="76.96" y2="344.73" stroke="#a8d4f0" stroke-width="0.7" />
<line x1="75.16" y1="341.73" x2="78.76" y2="341.73" stroke="#a8d4f0" stroke-width="0.7" />
<line x1="75.16" y1="344.73" x2="78.76" y2="344.73" stroke="#a8d4f0" stroke-width="0.7" />
<line x1="83.07" y1="338.70" x2="83.07" y2="341.70" stroke="#a8d4f0" stroke-width="0.7" />
<line x1="81.27" y1="338.70" x2="84.87" y2="338.70" stroke="#a8d4f0" stroke-width="0.7" />
<line x1="81.27" y1="341.70" x2="84.87" y2="341.70" stroke="#a8d4f0" stroke-width="0.7" />
<line x1="95.30" y1="333.65" x2="95.30" y2="336.65" stroke="#a8d4f0" stroke-width="0.7" />
<line x1="93.50" y1="333.65" x2="97.10" y2="333.65" stroke="#a8d4f0" stroke-width="0.7" />
<line x1="93.50" y1="336.65" x2="97.10" y2="336.65" stroke="#a8d4f0" stroke-width="0.7" />
<line x1="107.53" y1="328.10" x2="107.53" y2="331.10" stroke="#a8d4f0" stroke-width="0.7" />
<line x1="105.73" y1="328.10" x2="109.33" y2="328.10" stroke="#a8d4f0" stroke-width="0.7" />
<line x1="105.73" y1="331.10" x2="109.33" y2="331.10" stroke="#a8d4f0" stroke-width="0.7" />
<line x1="113.64" y1="325.07" x2="113.64" y2="328.07" stroke="#a8d4f0" stroke-width="0.7" />
<line x1="111.84" y1="325.07" x2="115.44" y2="325.07" stroke="#a8d4f0" stroke-width="0.7" />
<line x1="111.84" y1="328.07" x2="115.44" y2="328.07" stroke="#a8d4f0" stroke-width="0.7" />
<line x1="128.93" y1="318.50" x2="128.93" y2="321.50" stroke="#a8d4f0" stroke-width="0.7" />
<line x1="127.13" y1="318.50" x2="130.73" y2="318.50" stroke="#a8d4f0" stroke-width="0.7" />
<line x1="127.13" y1="321.50" x2="130.73" y2="321.50" stroke="#a8d4f0" stroke-width="0.7" />
<line x1="144.21" y1="311.94" x2="144.21" y2="314.94" stroke="#a8d4f0" stroke-width="0.7" />
<line x1="142.41" y1="311.94" x2="146.01" y2="311.94" stroke="#a8d4f0" stroke-width="0.7" />
<line x1="142.41" y1="314.94" x2="146.01" y2="314.94" stroke="#a8d4f0" stroke-width="0.7" />
<line x1="159.50" y1="305.38" x2="159.50" y2="308.38" stroke="#a8d4f0" stroke-width="0.7" />
<line x1="157.69" y1="305.38" x2="161.30" y2="305.38" stroke="#a8d4f0" stroke-width="0.7" />
<line x1="157.69" y1="308.38" x2="161.30" y2="308.38" stroke="#a8d4f0" stroke-width="0.7" />
<line x1="174.78" y1="298.31" x2="174.78" y2="301.31" stroke="#a8d4f0" stroke-width="0.7" />
<line x1="172.98" y1="298.31" x2="176.58" y2="298.31" stroke="#a8d4f0" stroke-width="0.7" />
<line x1="172.98" y1="301.31" x2="176.58" y2="301.31" stroke="#a8d4f0" stroke-width="0.7" />
<line x1="190.07" y1="291.24" x2="190.07" y2="294.24" stroke="#a8d4f0" stroke-width="0.7" />
<line x1="188.27" y1="291.24" x2="191.87" y2="291.24" stroke="#a8d4f0" stroke-width="0.7" />
<line x1="188.27" y1="294.24" x2="191.87" y2="294.24" stroke="#a8d4f0" stroke-width="0.7" />
<line x1="205.35" y1="283.66" x2="205.35" y2="286.66" stroke="#a8d4f0" stroke-width="0.7" />
<line x1="203.55" y1="283.66" x2="207.15" y2="283.66" stroke="#a8d4f0" stroke-width="0.7" />
<line x1="203.55" y1="286.66" x2="207.15" y2="286.66" stroke="#a8d4f0" stroke-width="0.7" />
<polyline points="52.50,366.05 53.11,364.50 54.03,362.95 55.56,360.87 58.61,358.23 61.67,356.11 64.73,353.98 67.78,352.36 70.84,350.74 73.90,349.13 76.96,347.51 80.01,345.89 83.07,344.27 89.18,341.54 95.30,338.82 101.41,336.09 107.53,332.86 113.64,329.62 128.93,322.55 144.21,315.48 159.50,308.40 174.78,300.82 190.07,293.24 205.35,285.16" fill="none" stroke="#f6d28a" stroke-width="1.0" stroke-linejoin="round" />
<line x1="52.50" y1="364.55" x2="52.50" y2="367.55" stroke="#f6d28a" stroke-width="0.7" />
<line x1="50.70" y1="364.55" x2="54.30" y2="364.55" stroke="#f6d28a" stroke-width="0.7" />
<line x1="50.70" y1="367.55" x2="54.30" y2="367.55" stroke="#f6d28a" stroke-width="0.7" />
<line x1="54.03" y1="361.45" x2="54.03" y2="364.45" stroke="#f6d28a" stroke-width="0.7" />
<line x1="52.23" y1="361.45" x2="55.83" y2="361.45" stroke="#f6d28a" stroke-width="0.7" />
<line x1="52.23" y1="364.45" x2="55.83" y2="364.45" stroke="#f6d28a" stroke-width="0.7" />
<line x1="58.61" y1="356.73" x2="58.61" y2="359.73" stroke="#f6d28a" stroke-width="0.7" />
<line x1="56.81" y1="356.73" x2="60.41" y2="356.73" stroke="#f6d28a" stroke-width="0.7" />
<line x1="56.81" y1="359.73" x2="60.41" y2="359.73" stroke="#f6d28a" stroke-width="0.7" />
<line x1="64.73" y1="352.48" x2="64.73" y2="355.48" stroke="#f6d28a" stroke-width="0.7" />
<line x1="62.93" y1="352.48" x2="66.53" y2="352.48" stroke="#f6d28a" stroke-width="0.7" />
<line x1="62.93" y1="355.48" x2="66.53" y2="355.48" stroke="#f6d28a" stroke-width="0.7" />
<line x1="70.84" y1="349.24" x2="70.84" y2="352.24" stroke="#f6d28a" stroke-width="0.7" />
<line x1="69.04" y1="349.24" x2="72.64" y2="349.24" stroke="#f6d28a" stroke-width="0.7" />
<line x1="69.04" y1="352.24" x2="72.64" y2="352.24" stroke="#f6d28a" stroke-width="0.7" />
<line x1="76.96" y1="346.01" x2="76.96" y2="349.01" stroke="#f6d28a" stroke-width="0.7" />
<line x1="75.16" y1="346.01" x2="78.76" y2="346.01" stroke="#f6d28a" stroke-width="0.7" />
<line x1="75.16" y1="349.01" x2="78.76" y2="349.01" stroke="#f6d28a" stroke-width="0.7" />
<line x1="83.07" y1="342.77" x2="83.07" y2="345.77" stroke="#f6d28a" stroke-width="0.7" />
<line x1="81.27" y1="342.77" x2="84.87" y2="342.77" stroke="#f6d28a" stroke-width="0.7" />
<line x1="81.27" y1="345.77" x2="84.87" y2="345.77" stroke="#f6d28a" stroke-width="0.7" />
<line x1="95.30" y1="337.32" x2="95.30" y2="340.32" stroke="#f6d28a" stroke-width="0.7" />
<line x1="93.50" y1="337.32" x2="97.10" y2="337.32" stroke="#f6d28a" stroke-width="0.7" />
<line x1="93.50" y1="340.32" x2="97.10" y2="340.32" stroke="#f6d28a" stroke-width="0.7" />
<line x1="107.53" y1="331.36" x2="107.53" y2="334.36" stroke="#f6d28a" stroke-width="0.7" />
<line x1="105.73" y1="331.36" x2="109.33" y2="331.36" stroke="#f6d28a" stroke-width="0.7" />
<line x1="105.73" y1="334.36" x2="109.33" y2="334.36" stroke="#f6d28a" stroke-width="0.7" />
<line x1="113.64" y1="328.12" x2="113.64" y2="331.12" stroke="#f6d28a" stroke-width="0.7" />
<line x1="111.84" y1="328.12" x2="115.44" y2="328.12" stroke="#f6d28a" stroke-width="0.7" />
<line x1="111.84" y1="331.12" x2="115.44" y2="331.12" stroke="#f6d28a" stroke-width="0.7" />
<line x1="128.93" y1="321.05" x2="128.93" y2="324.05" stroke="#f6d28a" stroke-width="0.7" />
<line x1="127.13" y1="321.05" x2="130.73" y2="321.05" stroke="#f6d28a" stroke-width="0.7" />
<line x1="127.13" y1="324.05" x2="130.73" y2="324.05" stroke="#f6d28a" stroke-width="0.7" />
<line x1="144.21" y1="313.98" x2="144.21" y2="316.98" stroke="#f6d28a" stroke-width="0.7" />
<line x1="142.41" y1="313.98" x2="146.01" y2="313.98" stroke="#f6d28a" stroke-width="0.7" />
<line x1="142.41" y1="316.98" x2="146.01" y2="316.98" stroke="#f6d28a" stroke-width="0.7" />
<line x1="159.50" y1="306.90" x2="159.50" y2="309.90" stroke="#f6d28a" stroke-width="0.7" />
<line x1="157.69" y1="306.90" x2="161.30" y2="306.90" stroke="#f6d28a" stroke-width="0.7" />
<line x1="157.69" y1="309.90" x2="161.30" y2="309.90" stroke="#f6d28a" stroke-width="0.7" />
<line x1="174.78" y1="299.32" x2="174.78" y2="302.32" stroke="#f6d28a" stroke-width="0.7" />
<line x1="172.98" y1="299.32" x2="176.58" y2="299.32" stroke="#f6d28a" stroke-width="0.7" />
<line x1="172.98" y1="302.32" x2="176.58" y2="302.32" stroke="#f6d28a" stroke-width="0.7" />
<line x1="190.07" y1="291.74" x2="190.07" y2="294.74" stroke="#f6d28a" stroke-width="0.7" />
<line x1="188.27" y1="291.74" x2="191.87" y2="291.74" stroke="#f6d28a" stroke-width="0.7" />
<line x1="188.27" y1="294.74" x2="191.87" y2="294.74" stroke="#f6d28a" stroke-width="0.7" />
<line x1="205.35" y1="283.66" x2="205.35" y2="286.66" stroke="#f6d28a" stroke-width="0.7" />
<line x1="203.55" y1="283.66" x2="207.15" y2="283.66" stroke="#f6d28a" stroke-width="0.7" />
<line x1="203.55" y1="286.66" x2="207.15" y2="286.66" stroke="#f6d28a" stroke-width="0.7" />
<polyline points="52.50,377.54 53.11,372.46 54.03,368.40 55.56,365.36 58.61,362.33 61.67,360.32 64.73,358.82 67.78,357.32 70.84,355.81 73.90,354.31 76.96,352.81 80.01,351.31 83.07,349.81 89.18,346.80 95.30,343.80 101.41,340.80 107.53,337.79 113.64,334.79 128.93,328.30 144.21,320.28 159.50,313.28 174.78,305.77 190.07,297.24 205.35,285.66" fill="none" stroke="#f0c0f0" stroke-width="1.0" stroke-linejoin="round" />
<line x1="52.50" y1="376.04" x2="52.50" y2="379.04" stroke="#f0c0f0" stroke-width="0.7" />
<line x1="50.70" y1="376.04" x2="54.30" y2="376.04" stroke="#f0c0f0" stroke-width="0.7" />
<line x1="50.70" y1="379.04" x2="54.30" y2="379.04" stroke="#f0c0f0" stroke-width="0.7" />
<line x1="54.03" y1="366.90" x2="54.03" y2="369.90" stroke="#f0c0f0" stroke-width="0.7" />
<line x1="52.23" y1="366.90" x2="55.83" y2="366.90" stroke="#f0c0f0" stroke-width="0.7" />
<line x1="52.23" y1="369.90" x2="55.83" y2="369.90" stroke="#f0c0f0" stroke-width="0.7" />
<line x1="58.61" y1="360.83" x2="58.61" y2="363.83" stroke="#f0c0f0" stroke-width="0.7" />
<line x1="56.81" y1="360.83" x2="60.41" y2="360.83" stroke="#f0c0f0" stroke-width="0.7" />
<line x1="56.81" y1="363.83" x2="60.41" y2="363.83" stroke="#f0c0f0" stroke-width="0.7" />
<line x1="64.73" y1="357.32" x2="64.73" y2="360.32" stroke="#f0c0f0" stroke-width="0.7" />
<line x1="62.93" y1="357.32" x2="66.53" y2="357.32" stroke="#f0c0f0" stroke-width="0.7" />
<line x1="62.93" y1="360.32" x2="66.53" y2="360.32" stroke="#f0c0f0" stroke-width="0.7" />
<line x1="70.84" y1="354.31" x2="70.84" y2="357.31" stroke="#f0c0f0" stroke-width="0.7" />
<line x1="69.04" y1="354.31" x2="72.64" y2="354.31" stroke="#f0c0f0" stroke-width="0.7" />
<line x1="69.04" y1="357.31" x2="72.64" y2="357.31" stroke="#f0c0f0" stroke-width="0.7" />
<line x1="76.96" y1="351.31" x2="76.96" y2="354.31" stroke="#f0c0f0" stroke-width="0.7" />
<line x1="75.16" y1="351.31" x2="78.76" y2="351.31" stroke="#f0c0f0" stroke-width="0.7" />
<line x1="75.16" y1="354.31" x2="78.76" y2="354.31" stroke="#f0c0f0" stroke-width="0.7" />
<line x1="83.07" y1="348.31" x2="83.07" y2="351.31" stroke="#f0c0f0" stroke-width="0.7" />
<line x1="81.27" y1="348.31" x2="84.87" y2="348.31" stroke="#f0c0f0" stroke-width="0.7" />
<line x1="81.27" y1="351.31" x2="84.87" y2="351.31" stroke="#f0c0f0" stroke-width="0.7" />
<line x1="95.30" y1="342.30" x2="95.30" y2="345.30" stroke="#f0c0f0" stroke-width="0.7" />
<line x1="93.50" y1="342.30" x2="97.10" y2="342.30" stroke="#f0c0f0" stroke-width="0.7" />
<line x1="93.50" y1="345.30" x2="97.10" y2="345.30" stroke="#f0c0f0" stroke-width="0.7" />
<line x1="107.53" y1="336.29" x2="107.53" y2="339.29" stroke="#f0c0f0" stroke-width="0.7" />
<line x1="105.73" y1="336.29" x2="109.33" y2="336.29" stroke="#f0c0f0" stroke-width="0.7" />
<line x1="105.73" y1="339.29" x2="109.33" y2="339.29" stroke="#f0c0f0" stroke-width="0.7" />
<line x1="113.64" y1="333.29" x2="113.64" y2="336.29" stroke="#f0c0f0" stroke-width="0.7" />
<line x1="111.84" y1="333.29" x2="115.44" y2="333.29" stroke="#f0c0f0" stroke-width="0.7" />
<line x1="111.84" y1="336.29" x2="115.44" y2="336.29" stroke="#f0c0f0" stroke-width="0.7" />
<line x1="128.93" y1="326.80" x2="128.93" y2="329.80" stroke="#f0c0f0" stroke-width="0.7" />
<line x1="127.13" y1="326.80" x2="130.73" y2="326.80" stroke="#f0c0f0" stroke-width="0.7" />
<line x1="127.13" y1="329.80" x2="130.73" y2="329.80" stroke="#f0c0f0" stroke-width="0.7" />
<line x1="144.21" y1="318.78" x2="144.21" y2="321.78" stroke="#f0c0f0" stroke-width="0.7" />
<line x1="142.41" y1="318.78" x2="146.01" y2="318.78" stroke="#f0c0f0" stroke-width="0.7" />
<line x1="142.41" y1="321.78" x2="146.01" y2="321.78" stroke="#f0c0f0" stroke-width="0.7" />
<line x1="159.50" y1="311.78" x2="159.50" y2="314.78" stroke="#f0c0f0" stroke-width="0.7" />
<line x1="157.69" y1="311.78" x2="161.30" y2="311.78" stroke="#f0c0f0" stroke-width="0.7" />
<line x1="157.69" y1="314.78" x2="161.30" y2="314.78" stroke="#f0c0f0" stroke-width="0.7" />
<line x1="174.78" y1="304.27" x2="174.78" y2="307.27" stroke="#f0c0f0" stroke-width="0.7" />
<line x1="172.98" y1="304.27" x2="176.58" y2="304.27" stroke="#f0c0f0" stroke-width="0.7" />
<line x1="172.98" y1="307.27" x2="176.58" y2="307.27" stroke="#f0c0f0" stroke-width="0.7" />
<line x1="190.07" y1="295.74" x2="190.07" y2="298.74" stroke="#f0c0f0" stroke-width="0.7" />
<line x1="188.27" y1="295.74" x2="191.87" y2="295.74" stroke="#f0c0f0" stroke-width="0.7" />
<line x1="188.27" y1="298.74" x2="191.87" y2="298.74" stroke="#f0c0f0" stroke-width="0.7" />
<line x1="205.35" y1="284.16" x2="205.35" y2="287.16" stroke="#f0c0f0" stroke-width="0.7" />
<line x1="203.55" y1="284.16" x2="207.15" y2="284.16" stroke="#f0c0f0" stroke-width="0.7" />
<line x1="203.55" y1="287.16" x2="207.15" y2="287.16" stroke="#f0c0f0" stroke-width="0.7" />
<polyline points="52.50,378.15 53.11,373.07 54.03,369.00 55.56,365.96 58.61,362.92 61.67,360.89 64.73,359.38 67.78,357.87 70.84,356.35 73.90,354.84 76.96,353.32 80.01,351.81 83.07,350.30 89.18,347.27 95.30,344.24 101.41,341.21 107.53,338.18 113.64,335.15 128.93,328.60 144.21,320.52 159.50,313.46 174.78,305.89 190.07,297.30 205.35,285.66" fill="none" stroke="#3c3c9c" stroke-width="1.0" stroke-linejoin="round" />
<line x1="52.50" y1="376.65" x2="52.50" y2="379.65" stroke="#3c3c9c" stroke-width="0.7" />
<line x1="50.70" y1="376.65" x2="54.30" y2="376.65" stroke="#3c3c9c" stroke-width="0.7" />
<line x1="50.70" y1="379.65" x2="54.30" y2="379.65" stroke="#3c3c9c" stroke-width="0.7" />
<line x1="54.03" y1="367.50" x2="54.03" y2="370.50" stroke="#3c3c9c" stroke-width="0.7" />
<line x1="52.23" y1="367.50" x2="55.83" y2="367.50" stroke="#3c3c9c" stroke-width="0.7" />
<line x1="52.23" y1="370.50" x2="55.83" y2="370.50" stroke="#3c3c9c" stroke-width="0.7" />
<line x1="58.61" y1="361.42" x2="58.61" y2="364.42" stroke="#3c3c9c" stroke-width="0.7" />
<line x1="56.81" y1="361.42" x2="60.41" y2="361.42" stroke="#3c3c9c" stroke-width="0.7" />
<line x1="56.81" y1="364.42" x2="60.41" y2="364.42" stroke="#3c3c9c" stroke-width="0.7" />
<line x1="64.73" y1="357.88" x2="64.73" y2="360.88" stroke="#3c3c9c" stroke-width="0.7" />
<line x1="62.93" y1="357.88" x2="66.53" y2="357.88" stroke="#3c3c9c" stroke-width="0.7" />
<line x1="62.93" y1="360.88" x2="66.53" y2="360.88" stroke="#3c3c9c" stroke-width="0.7" />
<line x1="70.84" y1="354.85" x2="70.84" y2="357.85" stroke="#3c3c9c" stroke-width="0.7" />
<line x1="69.04" y1="354.85" x2="72.64" y2="354.85" stroke="#3c3c9c" stroke-width="0.7" />
<line x1="69.04" y1="357.85" x2="72.64" y2="357.85" stroke="#3c3c9c" stroke-width="0.7" />
<line x1="76.96" y1="351.82" x2="76.96" y2="354.82" stroke="#3c3c9c" stroke-width="0.7" />
<line x1="75.16" y1="351.82" x2="78.76" y2="351.82" stroke="#3c3c9c" stroke-width="0.7" />
<line x1="75.16" y1="354.82" x2="78.76" y2="354.82" stroke="#3c3c9c" stroke-width="0.7" />
<line x1="83.07" y1="348.80" x2="83.07" y2="351.80" stroke="#3c3c9c" stroke-width="0.7" />
<line x1="81.27" y1="348.80" x2="84.87" y2="348.80" stroke="#3c3c9c" stroke-width="0.7" />
<line x1="81.27" y1="351.80" x2="84.87" y2="351.80" stroke="#3c3c9c" stroke-width="0.7" />
<line x1="95.30" y1="342.74" x2="95.30" y2="345.74" stroke="#3c3c9c" stroke-width="0.7" />
<line x1="93.50" y1="342.74" x2="97.10" y2="342.74" stroke="#3c3c9c" stroke-width="0.7" />
<line x1="93.50" y1="345.74" x2="97.10" y2="345.74" stroke="#3c3c9c" stroke-width="0.7" />
<line x1="107.53" y1="336.68" x2="107.53" y2="339.68" stroke="#3c3c9c" stroke-width="0.7" />
<line x1="105.73" y1="336.68" x2="109.33" y2="336.68" stroke="#3c3c9c" stroke-width="0.7" />
<line x1="105.73" y1="339.68" x2="109.33" y2="339.68" stroke="#3c3c9c" stroke-width="0.7" />
<line x1="113.64" y1="333.65" x2="113.64" y2="336.65" stroke="#3c3c9c" stroke-width="0.7" />
<line x1="111.84" y1="333.65" x2="115.44" y2="333.65" stroke="#3c3c9c" stroke-width="0.7" />
<line x1="111.84" y1="336.65" x2="115.44" y2="336.65" stroke="#3c3c9c" stroke-width="0.7" />
<line x1="128.93" y1="327.10" x2="128.93" y2="330.10" stroke="#3c3c9c" stroke-width="0.7" />
<line x1="127.13" y1="327.10" x2="130.73" y2="327.10" stroke="#3c3c9c" stroke-width="0.7" />
<line x1="127.13" y1="330.10" x2="130.73" y2="330.10" stroke="#3c3c9c" stroke-width="0.7" />
<line x1="144.21" y1="319.02" x2="144.21" y2="322.02" stroke="#3c3c9c" stroke-width="0.7" />
<line x1="142.41" y1="319.02" x2="146.01" y2="319.02" stroke="#3c3c9c" stroke-width="0.7" />
<line x1="142.41" y1="322.02" x2="146.01" y2="322.02" stroke="#3c3c9c" stroke-width="0.7" />
<line x1="159.50" y1="311.96" x2="159.50" y2="314.96" stroke="#3c3c9c" stroke-width="0.7" />
<line x1="157.69" y1="311.96" x2="161.30" y2="311.96" stroke="#3c3c9c" stroke-width="0.7" />
<line x1="157.69" y1="314.96" x2="161.30" y2="314.96" stroke="#3c3c9c" stroke-width="0.7" />
<line x1="174.78" y1="304.39" x2="174.78" y2="307.39" stroke="#3c3c9c" stroke-width="0.7" />
<line x1="172.98" y1="304.39" x2="176.58" y2="304.39" stroke="#3c3c9c" stroke-width="0.7" />
<line x1="172.98" y1="307.39" x2="176.58" y2="307.39" stroke="#3c3c9c" stroke-width="0.7" />
<line x1="190.07" y1="295.80" x2="190.07" y2="298.80" stroke="#3c3c9c" stroke-width="0.7" />
<line x1="188.27" y1="295.80" x2="191.87" y2="295.80" stroke="#3c3c9c" stroke-width="0.7" />
<line x1="188.27" y1="298.80" x2="191.87" y2="298.80" stroke="#3c3c9c" stroke-width="0.7" />
<line x1="205.35" y1="284.16" x2="205.35" y2="287.16" stroke="#3c3c9c" stroke-width="0.7" />
<line x1="203.55" y1="284.16" x2="207.15" y2="284.16" stroke="#3c3c9c" stroke-width="0.7" />
<line x1="203.55" y1="287.16" x2="207.15" y2="287.16" stroke="#3c3c9c" stroke-width="0.7" />
<polyline points="52.50,378.76 53.11,373.68 54.03,369.61 55.56,366.56 58.61,363.50 61.67,361.47 64.73,359.94 67.78,358.42 70.84,356.89 73.90,355.36 76.96,353.84 80.01,352.31 83.07,350.78 89.18,347.73 95.30,344.68 101.41,341.63 107.53,338.57 113.64,335.52 128.93,328.91 144.21,320.77 159.50,313.64 174.78,306.01 190.07,297.37 205.35,285.66" fill="none" stroke="#c0304c" stroke-width="1.0" stroke-linejoin="round" />
<line x1="52.50" y1="377.26" x2="52.50" y2="380.26" stroke="#c0304c" stroke-width="0.7" />
<line x1="50.70" y1="377.26" x2="54.30" y2="377.26" stroke="#c0304c" stroke-width="0.7" />
<line x1="50.70" y1="380.26" x2="54.30" y2="380.26" stroke="#c0304c" stroke-width="0.7" />
<line x1="54.03" y1="368.11" x2="54.03" y2="371.11" stroke="#c0304c" stroke-width="0.7" />
<line x1="52.23" y1="368.11" x2="55.83" y2="368.11" stroke="#c0304c" stroke-width="0.7" />
<line x1="52.23" y1="371.11" x2="55.83" y2="371.11" stroke="#c0304c" stroke-width="0.7" />
<line x1="58.61" y1="362.00" x2="58.61" y2="365.00" stroke="#c0304c" stroke-width="0.7" />
<line x1="56.81" y1="362.00" x2="60.41" y2="362.00" stroke="#c0304c" stroke-width="0.7" />
<line x1="56.81" y1="365.00" x2="60.41" y2="365.00" stroke="#c0304c" stroke-width="0.7" />
<line x1="64.73" y1="358.44" x2="64.73" y2="361.44" stroke="#c0304c" stroke-width="0.7" />
<line x1="62.93" y1="358.44" x2="66.53" y2="358.44" stroke="#c0304c" stroke-width="0.7" />
<line x1="62.93" y1="361.44" x2="66.53" y2="361.44" stroke="#c0304c" stroke-width="0.7" />
<line x1="70.84" y1="355.39" x2="70.84" y2="358.39" stroke="#c0304c" stroke-width="0.7" />
<line x1="69.04" y1="355.39" x2="72.64" y2="355.39" stroke="#c0304c" stroke-width="0.7" />
<line x1="69.04" y1="358.39" x2="72.64" y2="358.39" stroke="#c0304c" stroke-width="0.7" />
<line x1="76.96" y1="352.34" x2="76.96" y2="355.34" stroke="#c0304c" stroke-width="0.7" />
<line x1="75.16" y1="352.34" x2="78.76" y2="352.34" stroke="#c0304c" stroke-width="0.7" />
<line x1="75.16" y1="355.34" x2="78.76" y2="355.34" stroke="#c0304c" stroke-width="0.7" />
<line x1="83.07" y1="349.28" x2="83.07" y2="352.28" stroke="#c0304c" stroke-width="0.7" />
<line x1="81.27" y1="349.28" x2="84.87" y2="349.28" stroke="#c0304c" stroke-width="0.7" />
<line x1="81.27" y1="352.28" x2="84.87" y2="352.28" stroke="#c0304c" stroke-width="0.7" />
<line x1="95.30" y1="343.18" x2="95.30" y2="346.18" stroke="#c0304c" stroke-width="0.7" />
<line x1="93.50" y1="343.18" x2="97.10" y2="343.18" stroke="#c0304c" stroke-width="0.7" />
<line x1="93.50" y1="346.18" x2="97.10" y2="346.18" stroke="#c0304c" stroke-width="0.7" />
<line x1="107.53" y1="337.07" x2="107.53" y2="340.07" stroke="#c0304c" stroke-width="0.7" />
<line x1="105.73" y1="337.07" x2="109.33" y2="337.07" stroke="#c0304c" stroke-width="0.7" />
<line x1="105.73" y1="340.07" x2="109.33" y2="340.07" stroke="#c0304c" stroke-width="0.7" />
<line x1="113.64" y1="334.02" x2="113.64" y2="337.02" stroke="#c0304c" stroke-width="0.7" />
<line x1="111.84" y1="334.02" x2="115.44" y2="334.02" stroke="#c0304c" stroke-width="0.7" />
<line x1="111.84" y1="337.02" x2="115.44" y2="337.02" stroke="#c0304c" stroke-width="0.7" />
<line x1="128.93" y1="327.41" x2="128.93" y2="330.41" stroke="#c0304c" stroke-width="0.7" />
<line x1="127.13" y1="327.41" x2="130.73" y2="327.41" stroke="#c0304c" stroke-width="0.7" />
<line x1="127.13" y1="330.41" x2="130.73" y2="330.41" stroke="#c0304c" stroke-width="0.7" />
<line x1="144.21" y1="319.27" x2="144.21" y2="322.27" stroke="#c0304c" stroke-width="0.7" />
<line x1="142.41" y1="319.27" x2="146.01" y2="319.27" stroke="#c0304c" stroke-width="0.7" />
<line x1="142.41" y1="322.27" x2="146.01" y2="322.27" stroke="#c0304c" stroke-width="0.7" />
<line x1="159.50" y1="312.14" x2="159.50" y2="315.14" stroke="#c0304c" stroke-width="0.7" />
<line x1="157.69" y1="312.14" x2="161.30" y2="312.14" stroke="#c0304c" stroke-width="0.7" />
<line x1="157.69" y1="315.14" x2="161.30" y2="315.14" stroke="#c0304c" stroke-width="0.7" />
<line x1="174.78" y1="304.51" x2="174.78" y2="307.51" stroke="#c0304c" stroke-width="0.7" />
<line x1="172.98" y1="304.51" x2="176.58" y2="304.51" stroke="#c0304c" stroke-width="0.7" />
<line x1="172.98" y1="307.51" x2="176.58" y2="307.51" stroke="#c0304c" stroke-width="0.7" />
<line x1="190.07" y1="295.87" x2="190.07" y2="298.87" stroke="#c0304c" stroke-width="0.7" />
<line x1="188.27" y1="295.87" x2="191.87" y2="295.87" stroke="#c0304c" stroke-width="0.7" />
<line x1="188.27" y1="298.87" x2="191.87" y2="298.87" stroke="#c0304c" stroke-width="0.7" />
<line x1="205.35" y1="284.16" x2="205.35" y2="287.16" stroke="#c0304c" stroke-width="0.7" />
<line x1="203.55" y1="284.16" x2="207.15" y2="284.16" stroke="#c0304c" stroke-width="0.7" />
<line x1="203.55" y1="287.16" x2="207.15" y2="287.16" stroke="#c0304c" stroke-width="0.7" />
<line x1="52.50" y1="380.80" x2="52.50" y2="368.59" stroke="#c0304c" stroke-width="0.8" />
<line x1="50.70" y1="380.80" x2="54.30" y2="380.80" stroke="#c0304c" stroke-width="0.8" />
<line x1="50.70" y1="368.59" x2="54.30" y2="368.59" stroke="#c0304c" stroke-width="0.8" />
<line x1="44.90" y1="237.30" x2="57.90" y2="237.30" stroke="#000" stroke-width="1.0" />
<text x="63.10" y="240.00" font-size="8.0" text-anchor="start" fill="#111" font-weight="normal" >Before washing</text>
<line x1="44.90" y1="249.50" x2="57.90" y2="249.50" stroke="#e86a6a" stroke-width="1.0" />
<text x="63.10" y="252.20" font-size="8.0" text-anchor="start" fill="#111" font-weight="normal" >After 1<tspan font-size="5.4" dy="-3.3">st</tspan><tspan dy="3.3"> wash</tspan></text>
<line x1="44.90" y1="261.70" x2="57.90" y2="261.70" stroke="#4a7cc0" stroke-width="1.0" />
<text x="63.10" y="264.40" font-size="8.0" text-anchor="start" fill="#111" font-weight="normal" >2<tspan font-size="5.4" dy="-3.3">nd</tspan></text>
<line x1="44.90" y1="273.90" x2="57.90" y2="273.90" stroke="#f07050" stroke-width="1.0" />
<text x="63.10" y="276.60" font-size="8.0" text-anchor="start" fill="#111" font-weight="normal" >3<tspan font-size="5.4" dy="-3.3">rd</tspan></text>
<line x1="44.90" y1="286.10" x2="57.90" y2="286.10" stroke="#80b4e0" stroke-width="1.0" />
<text x="63.10" y="288.80" font-size="8.0" text-anchor="start" fill="#111" font-weight="normal" >4<tspan font-size="5.4" dy="-3.3">th</tspan></text>
<line x1="44.90" y1="298.30" x2="57.90" y2="298.30" stroke="#f8b070" stroke-width="1.0" />
<text x="63.10" y="301.00" font-size="8.0" text-anchor="start" fill="#111" font-weight="normal" >5<tspan font-size="5.4" dy="-3.3">th</tspan></text>
<line x1="44.90" y1="310.50" x2="57.90" y2="310.50" stroke="#a8d4f0" stroke-width="1.0" />
<text x="63.10" y="313.20" font-size="8.0" text-anchor="start" fill="#111" font-weight="normal" >6<tspan font-size="5.4" dy="-3.3">th</tspan></text>
<line x1="133.00" y1="237.30" x2="146.30" y2="237.30" stroke="#f6d28a" stroke-width="1.1" />
<text x="152.50" y="240.00" font-size="8.0" text-anchor="start" fill="#111" font-weight="normal" >7<tspan font-size="5.4" dy="-3.3">th</tspan></text>
<line x1="133.00" y1="249.50" x2="146.30" y2="249.50" stroke="#f0c0f0" stroke-width="1.1" />
<text x="152.50" y="252.20" font-size="8.0" text-anchor="start" fill="#111" font-weight="normal" >8<tspan font-size="5.4" dy="-3.3">th</tspan></text>
<line x1="133.00" y1="261.70" x2="146.30" y2="261.70" stroke="#3c3c9c" stroke-width="1.1" />
<text x="152.50" y="264.40" font-size="8.0" text-anchor="start" fill="#111" font-weight="normal" >9<tspan font-size="5.4" dy="-3.3">th</tspan></text>
<line x1="133.00" y1="273.90" x2="146.30" y2="273.90" stroke="#c0304c" stroke-width="1.1" />
<text x="152.50" y="276.60" font-size="8.0" text-anchor="start" fill="#111" font-weight="normal" >10<tspan font-size="5.4" dy="-3.3">th</tspan></text>
<rect x="268.60" y="228.40" width="182.50" height="163.30" fill="none" stroke="#6b6b6b" stroke-width="1.1"/>
<line x1="268.60" y1="379.90" x2="272.90" y2="379.90" stroke="#6b6b6b" stroke-width="1" />
<text x="263.00" y="383.00" font-size="8.9" text-anchor="end" fill="#222" font-weight="normal" >0.0</text>
<line x1="268.60" y1="333.38" x2="272.90" y2="333.38" stroke="#6b6b6b" stroke-width="1" />
<text x="263.00" y="336.48" font-size="8.9" text-anchor="end" fill="#222" font-weight="normal" >0.4</text>
<line x1="268.60" y1="286.86" x2="272.90" y2="286.86" stroke="#6b6b6b" stroke-width="1" />
<text x="263.00" y="289.96" font-size="8.9" text-anchor="end" fill="#222" font-weight="normal" >0.8</text>
<line x1="268.60" y1="240.34" x2="272.90" y2="240.34" stroke="#6b6b6b" stroke-width="1" />
<text x="263.00" y="243.44" font-size="8.9" text-anchor="end" fill="#222" font-weight="normal" >1.2</text>
<line x1="268.60" y1="356.64" x2="271.20" y2="356.64" stroke="#6b6b6b" stroke-width="1" />
<line x1="268.60" y1="310.12" x2="271.20" y2="310.12" stroke="#6b6b6b" stroke-width="1" />
<line x1="268.60" y1="263.60" x2="271.20" y2="263.60" stroke="#6b6b6b" stroke-width="1" />
<line x1="284.00" y1="391.70" x2="284.00" y2="395.30" stroke="#6b6b6b" stroke-width="1" />
<text x="284.00" y="407.10" font-size="8.9" text-anchor="middle" fill="#222" font-weight="normal" >0</text>
<line x1="314.45" y1="391.70" x2="314.45" y2="395.30" stroke="#6b6b6b" stroke-width="1" />
<text x="314.45" y="407.10" font-size="8.9" text-anchor="middle" fill="#222" font-weight="normal" >100</text>
<line x1="344.90" y1="391.70" x2="344.90" y2="395.30" stroke="#6b6b6b" stroke-width="1" />
<text x="344.90" y="407.10" font-size="8.9" text-anchor="middle" fill="#222" font-weight="normal" >200</text>
<line x1="375.35" y1="391.70" x2="375.35" y2="395.30" stroke="#6b6b6b" stroke-width="1" />
<text x="375.35" y="407.10" font-size="8.9" text-anchor="middle" fill="#222" font-weight="normal" >300</text>
<line x1="405.80" y1="391.70" x2="405.80" y2="395.30" stroke="#6b6b6b" stroke-width="1" />
<text x="405.80" y="407.10" font-size="8.9" text-anchor="middle" fill="#222" font-weight="normal" >400</text>
<line x1="436.25" y1="391.70" x2="436.25" y2="395.30" stroke="#6b6b6b" stroke-width="1" />
<text x="436.25" y="407.10" font-size="8.9" text-anchor="middle" fill="#222" font-weight="normal" >500</text>
<line x1="268.77" y1="391.70" x2="268.77" y2="393.90" stroke="#6b6b6b" stroke-width="1" />
<line x1="299.23" y1="391.70" x2="299.23" y2="393.90" stroke="#6b6b6b" stroke-width="1" />
<line x1="329.68" y1="391.70" x2="329.68" y2="393.90" stroke="#6b6b6b" stroke-width="1" />
<line x1="360.12" y1="391.70" x2="360.12" y2="393.90" stroke="#6b6b6b" stroke-width="1" />
<line x1="390.57" y1="391.70" x2="390.57" y2="393.90" stroke="#6b6b6b" stroke-width="1" />
<line x1="421.02" y1="391.70" x2="421.02" y2="393.90" stroke="#6b6b6b" stroke-width="1" />
<line x1="451.48" y1="391.70" x2="451.48" y2="393.90" stroke="#6b6b6b" stroke-width="1" />
<text x="232.50" y="226.10" font-size="10.5" text-anchor="start" fill="#000" font-weight="bold" >e</text>
<text x="282.60" y="222.30" font-size="8.7" text-anchor="middle" fill="#222">×</text>
<text x="286.20" y="222.60" font-size="8.7" fill="#222">10</text>
<text x="296.20" y="218.40" font-size="5.8" fill="#222">3</text>
<text transform="translate(241.10,306.80) rotate(-90)" font-size="9.8" text-anchor="middle" fill="#222">Δ<tspan font-style="italic">l</tspan>/<tspan font-style="italic">l</tspan><tspan font-size="6.3" dy="1.3">0</tspan></text>
<text x="360" y="420.4" font-size="9.2" text-anchor="middle" fill="#222">Pressure (kPa)</text>
<polyline points="284.00,366.29 285.07,356.64 286.13,352.57 287.96,350.24 289.48,348.73 293.13,346.17 298.62,342.10 304.71,336.40 314.45,330.36 322.06,325.94 329.68,321.40 337.29,316.52 344.90,310.59 360.12,305.47 375.35,299.65 390.57,292.67 405.80,284.53 421.02,276.97 436.25,269.65" fill="none" stroke="#000" stroke-width="1.1" stroke-linejoin="round" />
<line x1="284.00" y1="363.89" x2="284.00" y2="368.69" stroke="#000" stroke-width="0.9" />
<line x1="281.60" y1="363.89" x2="286.40" y2="363.89" stroke="#000" stroke-width="0.9" />
<line x1="281.60" y1="368.69" x2="286.40" y2="368.69" stroke="#000" stroke-width="0.9" />
<rect x="281.70" y="363.99" width="4.60" height="4.60" fill="#000"/>
<line x1="285.07" y1="354.24" x2="285.07" y2="359.04" stroke="#000" stroke-width="0.9" />
<line x1="282.67" y1="354.24" x2="287.47" y2="354.24" stroke="#000" stroke-width="0.9" />
<line x1="282.67" y1="359.04" x2="287.47" y2="359.04" stroke="#000" stroke-width="0.9" />
<rect x="282.77" y="354.34" width="4.60" height="4.60" fill="#000"/>
<line x1="286.13" y1="350.17" x2="286.13" y2="354.97" stroke="#000" stroke-width="0.9" />
<line x1="283.73" y1="350.17" x2="288.53" y2="350.17" stroke="#000" stroke-width="0.9" />
<line x1="283.73" y1="354.97" x2="288.53" y2="354.97" stroke="#000" stroke-width="0.9" />
<rect x="283.83" y="350.27" width="4.60" height="4.60" fill="#000"/>
<line x1="287.96" y1="347.84" x2="287.96" y2="352.64" stroke="#000" stroke-width="0.9" />
<line x1="285.56" y1="347.84" x2="290.36" y2="347.84" stroke="#000" stroke-width="0.9" />
<line x1="285.56" y1="352.64" x2="290.36" y2="352.64" stroke="#000" stroke-width="0.9" />
<rect x="285.66" y="347.94" width="4.60" height="4.60" fill="#000"/>
<line x1="289.48" y1="346.33" x2="289.48" y2="351.13" stroke="#000" stroke-width="0.9" />
<line x1="287.08" y1="346.33" x2="291.88" y2="346.33" stroke="#000" stroke-width="0.9" />
<line x1="287.08" y1="351.13" x2="291.88" y2="351.13" stroke="#000" stroke-width="0.9" />
<rect x="287.18" y="346.43" width="4.60" height="4.60" fill="#000"/>
<line x1="293.13" y1="343.77" x2="293.13" y2="348.57" stroke="#000" stroke-width="0.9" />
<line x1="290.74" y1="343.77" x2="295.53" y2="343.77" stroke="#000" stroke-width="0.9" />
<line x1="290.74" y1="348.57" x2="295.53" y2="348.57" stroke="#000" stroke-width="0.9" />
<rect x="290.83" y="343.87" width="4.60" height="4.60" fill="#000"/>
<line x1="298.62" y1="339.70" x2="298.62" y2="344.50" stroke="#000" stroke-width="0.9" />
<line x1="296.22" y1="339.70" x2="301.02" y2="339.70" stroke="#000" stroke-width="0.9" />
<line x1="296.22" y1="344.50" x2="301.02" y2="344.50" stroke="#000" stroke-width="0.9" />
<rect x="296.32" y="339.80" width="4.60" height="4.60" fill="#000"/>
<line x1="304.71" y1="334.00" x2="304.71" y2="338.80" stroke="#000" stroke-width="0.9" />
<line x1="302.31" y1="334.00" x2="307.11" y2="334.00" stroke="#000" stroke-width="0.9" />
<line x1="302.31" y1="338.80" x2="307.11" y2="338.80" stroke="#000" stroke-width="0.9" />
<rect x="302.41" y="334.10" width="4.60" height="4.60" fill="#000"/>
<line x1="314.45" y1="327.96" x2="314.45" y2="332.76" stroke="#000" stroke-width="0.9" />
<line x1="312.05" y1="327.96" x2="316.85" y2="327.96" stroke="#000" stroke-width="0.9" />
<line x1="312.05" y1="332.76" x2="316.85" y2="332.76" stroke="#000" stroke-width="0.9" />
<rect x="312.15" y="328.06" width="4.60" height="4.60" fill="#000"/>
<line x1="322.06" y1="323.54" x2="322.06" y2="328.34" stroke="#000" stroke-width="0.9" />
<line x1="319.66" y1="323.54" x2="324.46" y2="323.54" stroke="#000" stroke-width="0.9" />
<line x1="319.66" y1="328.34" x2="324.46" y2="328.34" stroke="#000" stroke-width="0.9" />
<rect x="319.76" y="323.64" width="4.60" height="4.60" fill="#000"/>
<line x1="329.68" y1="319.00" x2="329.68" y2="323.80" stroke="#000" stroke-width="0.9" />
<line x1="327.28" y1="319.00" x2="332.07" y2="319.00" stroke="#000" stroke-width="0.9" />
<line x1="327.28" y1="323.80" x2="332.07" y2="323.80" stroke="#000" stroke-width="0.9" />
<rect x="327.38" y="319.10" width="4.60" height="4.60" fill="#000"/>
<line x1="337.29" y1="314.12" x2="337.29" y2="318.92" stroke="#000" stroke-width="0.9" />
<line x1="334.89" y1="314.12" x2="339.69" y2="314.12" stroke="#000" stroke-width="0.9" />
<line x1="334.89" y1="318.92" x2="339.69" y2="318.92" stroke="#000" stroke-width="0.9" />
<rect x="334.99" y="314.22" width="4.60" height="4.60" fill="#000"/>
<line x1="344.90" y1="308.19" x2="344.90" y2="312.99" stroke="#000" stroke-width="0.9" />
<line x1="342.50" y1="308.19" x2="347.30" y2="308.19" stroke="#000" stroke-width="0.9" />
<line x1="342.50" y1="312.99" x2="347.30" y2="312.99" stroke="#000" stroke-width="0.9" />
<rect x="342.60" y="308.29" width="4.60" height="4.60" fill="#000"/>
<line x1="360.12" y1="303.07" x2="360.12" y2="307.87" stroke="#000" stroke-width="0.9" />
<line x1="357.73" y1="303.07" x2="362.52" y2="303.07" stroke="#000" stroke-width="0.9" />
<line x1="357.73" y1="307.87" x2="362.52" y2="307.87" stroke="#000" stroke-width="0.9" />
<rect x="357.82" y="303.17" width="4.60" height="4.60" fill="#000"/>
<line x1="375.35" y1="297.25" x2="375.35" y2="302.05" stroke="#000" stroke-width="0.9" />
<line x1="372.95" y1="297.25" x2="377.75" y2="297.25" stroke="#000" stroke-width="0.9" />
<line x1="372.95" y1="302.05" x2="377.75" y2="302.05" stroke="#000" stroke-width="0.9" />
<rect x="373.05" y="297.35" width="4.60" height="4.60" fill="#000"/>
<line x1="390.57" y1="290.27" x2="390.57" y2="295.07" stroke="#000" stroke-width="0.9" />
<line x1="388.18" y1="290.27" x2="392.97" y2="290.27" stroke="#000" stroke-width="0.9" />
<line x1="388.18" y1="295.07" x2="392.97" y2="295.07" stroke="#000" stroke-width="0.9" />
<rect x="388.27" y="290.37" width="4.60" height="4.60" fill="#000"/>
<line x1="405.80" y1="282.13" x2="405.80" y2="286.93" stroke="#000" stroke-width="0.9" />
<line x1="403.40" y1="282.13" x2="408.20" y2="282.13" stroke="#000" stroke-width="0.9" />
<line x1="403.40" y1="286.93" x2="408.20" y2="286.93" stroke="#000" stroke-width="0.9" />
<rect x="403.50" y="282.23" width="4.60" height="4.60" fill="#000"/>
<line x1="421.02" y1="274.57" x2="421.02" y2="279.37" stroke="#000" stroke-width="0.9" />
<line x1="418.62" y1="274.57" x2="423.42" y2="274.57" stroke="#000" stroke-width="0.9" />
<line x1="418.62" y1="279.37" x2="423.42" y2="279.37" stroke="#000" stroke-width="0.9" />
<rect x="418.72" y="274.67" width="4.60" height="4.60" fill="#000"/>
<line x1="436.25" y1="267.25" x2="436.25" y2="272.05" stroke="#000" stroke-width="0.9" />
<line x1="433.85" y1="267.25" x2="438.65" y2="267.25" stroke="#000" stroke-width="0.9" />
<line x1="433.85" y1="272.05" x2="438.65" y2="272.05" stroke="#000" stroke-width="0.9" />
<rect x="433.95" y="267.35" width="4.60" height="4.60" fill="#000"/>
<polyline points="284.00,379.90 285.07,358.97 286.13,355.48 287.96,352.57 289.48,350.82 293.13,348.50 298.62,344.43 304.71,339.19 314.45,333.38 322.06,328.73 329.68,324.08 337.29,319.42 344.90,313.26 360.12,308.96 375.35,302.44 390.57,294.65 405.80,286.86 421.02,278.49 436.25,269.65" fill="none" stroke="#d9302a" stroke-width="1.1" stroke-linejoin="round" />
<line x1="284.00" y1="377.50" x2="284.00" y2="382.30" stroke="#d9302a" stroke-width="0.9" />
<line x1="281.60" y1="377.50" x2="286.40" y2="377.50" stroke="#d9302a" stroke-width="0.9" />
<line x1="281.60" y1="382.30" x2="286.40" y2="382.30" stroke="#d9302a" stroke-width="0.9" />
<circle cx="284.00" cy="379.90" r="2.32" fill="#d9302a"/>
<line x1="285.07" y1="356.57" x2="285.07" y2="361.37" stroke="#d9302a" stroke-width="0.9" />
<line x1="282.67" y1="356.57" x2="287.47" y2="356.57" stroke="#d9302a" stroke-width="0.9" />
<line x1="282.67" y1="361.37" x2="287.47" y2="361.37" stroke="#d9302a" stroke-width="0.9" />
<circle cx="285.07" cy="358.97" r="2.32" fill="#d9302a"/>
<line x1="286.13" y1="353.08" x2="286.13" y2="357.88" stroke="#d9302a" stroke-width="0.9" />
<line x1="283.73" y1="353.08" x2="288.53" y2="353.08" stroke="#d9302a" stroke-width="0.9" />
<line x1="283.73" y1="357.88" x2="288.53" y2="357.88" stroke="#d9302a" stroke-width="0.9" />
<circle cx="286.13" cy="355.48" r="2.32" fill="#d9302a"/>
<line x1="287.96" y1="350.17" x2="287.96" y2="354.97" stroke="#d9302a" stroke-width="0.9" />
<line x1="285.56" y1="350.17" x2="290.36" y2="350.17" stroke="#d9302a" stroke-width="0.9" />
<line x1="285.56" y1="354.97" x2="290.36" y2="354.97" stroke="#d9302a" stroke-width="0.9" />
<circle cx="287.96" cy="352.57" r="2.32" fill="#d9302a"/>
<line x1="289.48" y1="348.43" x2="289.48" y2="353.22" stroke="#d9302a" stroke-width="0.9" />
<line x1="287.08" y1="348.43" x2="291.88" y2="348.43" stroke="#d9302a" stroke-width="0.9" />
<line x1="287.08" y1="353.22" x2="291.88" y2="353.22" stroke="#d9302a" stroke-width="0.9" />
<circle cx="289.48" cy="350.82" r="2.32" fill="#d9302a"/>
<line x1="293.13" y1="346.10" x2="293.13" y2="350.90" stroke="#d9302a" stroke-width="0.9" />
<line x1="290.74" y1="346.10" x2="295.53" y2="346.10" stroke="#d9302a" stroke-width="0.9" />
<line x1="290.74" y1="350.90" x2="295.53" y2="350.90" stroke="#d9302a" stroke-width="0.9" />
<circle cx="293.13" cy="348.50" r="2.32" fill="#d9302a"/>
<line x1="298.62" y1="342.03" x2="298.62" y2="346.83" stroke="#d9302a" stroke-width="0.9" />
<line x1="296.22" y1="342.03" x2="301.02" y2="342.03" stroke="#d9302a" stroke-width="0.9" />
<line x1="296.22" y1="346.83" x2="301.02" y2="346.83" stroke="#d9302a" stroke-width="0.9" />
<circle cx="298.62" cy="344.43" r="2.32" fill="#d9302a"/>
<line x1="304.71" y1="336.80" x2="304.71" y2="341.59" stroke="#d9302a" stroke-width="0.9" />
<line x1="302.31" y1="336.80" x2="307.11" y2="336.80" stroke="#d9302a" stroke-width="0.9" />
<line x1="302.31" y1="341.59" x2="307.11" y2="341.59" stroke="#d9302a" stroke-width="0.9" />
<circle cx="304.71" cy="339.19" r="2.32" fill="#d9302a"/>
<line x1="314.45" y1="330.98" x2="314.45" y2="335.78" stroke="#d9302a" stroke-width="0.9" />
<line x1="312.05" y1="330.98" x2="316.85" y2="330.98" stroke="#d9302a" stroke-width="0.9" />
<line x1="312.05" y1="335.78" x2="316.85" y2="335.78" stroke="#d9302a" stroke-width="0.9" />
<circle cx="314.45" cy="333.38" r="2.32" fill="#d9302a"/>
<line x1="322.06" y1="326.33" x2="322.06" y2="331.13" stroke="#d9302a" stroke-width="0.9" />
<line x1="319.66" y1="326.33" x2="324.46" y2="326.33" stroke="#d9302a" stroke-width="0.9" />
<line x1="319.66" y1="331.13" x2="324.46" y2="331.13" stroke="#d9302a" stroke-width="0.9" />
<circle cx="322.06" cy="328.73" r="2.32" fill="#d9302a"/>
<line x1="329.68" y1="321.68" x2="329.68" y2="326.48" stroke="#d9302a" stroke-width="0.9" />
<line x1="327.28" y1="321.68" x2="332.07" y2="321.68" stroke="#d9302a" stroke-width="0.9" />
<line x1="327.28" y1="326.48" x2="332.07" y2="326.48" stroke="#d9302a" stroke-width="0.9" />
<circle cx="329.68" cy="324.08" r="2.32" fill="#d9302a"/>
<line x1="337.29" y1="317.02" x2="337.29" y2="321.82" stroke="#d9302a" stroke-width="0.9" />
<line x1="334.89" y1="317.02" x2="339.69" y2="317.02" stroke="#d9302a" stroke-width="0.9" />
<line x1="334.89" y1="321.82" x2="339.69" y2="321.82" stroke="#d9302a" stroke-width="0.9" />
<circle cx="337.29" cy="319.42" r="2.32" fill="#d9302a"/>
<line x1="344.90" y1="310.86" x2="344.90" y2="315.66" stroke="#d9302a" stroke-width="0.9" />
<line x1="342.50" y1="310.86" x2="347.30" y2="310.86" stroke="#d9302a" stroke-width="0.9" />
<line x1="342.50" y1="315.66" x2="347.30" y2="315.66" stroke="#d9302a" stroke-width="0.9" />
<circle cx="344.90" cy="313.26" r="2.32" fill="#d9302a"/>
<line x1="360.12" y1="306.56" x2="360.12" y2="311.36" stroke="#d9302a" stroke-width="0.9" />
<line x1="357.73" y1="306.56" x2="362.52" y2="306.56" stroke="#d9302a" stroke-width="0.9" />
<line x1="357.73" y1="311.36" x2="362.52" y2="311.36" stroke="#d9302a" stroke-width="0.9" />
<circle cx="360.12" cy="308.96" r="2.32" fill="#d9302a"/>
<line x1="375.35" y1="300.04" x2="375.35" y2="304.84" stroke="#d9302a" stroke-width="0.9" />
<line x1="372.95" y1="300.04" x2="377.75" y2="300.04" stroke="#d9302a" stroke-width="0.9" />
<line x1="372.95" y1="304.84" x2="377.75" y2="304.84" stroke="#d9302a" stroke-width="0.9" />
<circle cx="375.35" cy="302.44" r="2.32" fill="#d9302a"/>
<line x1="390.57" y1="292.25" x2="390.57" y2="297.05" stroke="#d9302a" stroke-width="0.9" />
<line x1="388.18" y1="292.25" x2="392.97" y2="292.25" stroke="#d9302a" stroke-width="0.9" />
<line x1="388.18" y1="297.05" x2="392.97" y2="297.05" stroke="#d9302a" stroke-width="0.9" />
<circle cx="390.57" cy="294.65" r="2.32" fill="#d9302a"/>
<line x1="405.80" y1="284.46" x2="405.80" y2="289.26" stroke="#d9302a" stroke-width="0.9" />
<line x1="403.40" y1="284.46" x2="408.20" y2="284.46" stroke="#d9302a" stroke-width="0.9" />
<line x1="403.40" y1="289.26" x2="408.20" y2="289.26" stroke="#d9302a" stroke-width="0.9" />
<circle cx="405.80" cy="286.86" r="2.32" fill="#d9302a"/>
<line x1="421.02" y1="276.09" x2="421.02" y2="280.89" stroke="#d9302a" stroke-width="0.9" />
<line x1="418.62" y1="276.09" x2="423.42" y2="276.09" stroke="#d9302a" stroke-width="0.9" />
<line x1="418.62" y1="280.89" x2="423.42" y2="280.89" stroke="#d9302a" stroke-width="0.9" />
<circle cx="421.02" cy="278.49" r="2.32" fill="#d9302a"/>
<line x1="436.25" y1="267.25" x2="436.25" y2="272.05" stroke="#d9302a" stroke-width="0.9" />
<line x1="433.85" y1="267.25" x2="438.65" y2="267.25" stroke="#d9302a" stroke-width="0.9" />
<line x1="433.85" y1="272.05" x2="438.65" y2="272.05" stroke="#d9302a" stroke-width="0.9" />
<circle cx="436.25" cy="269.65" r="2.32" fill="#d9302a"/>
<line x1="284.00" y1="365.77" x2="284.00" y2="370.77" stroke="#d9302a" stroke-width="0.8" />
<line x1="281.80" y1="365.77" x2="286.20" y2="365.77" stroke="#d9302a" stroke-width="0.8" />
<line x1="281.80" y1="370.77" x2="286.20" y2="370.77" stroke="#d9302a" stroke-width="0.8" />
<circle cx="284.00" cy="368.27" r="1.94" fill="#d9302a"/>
<rect x="282.00" y="377.90" width="4.00" height="4.00" fill="#d9302a"/>
<line x1="275.80" y1="237.90" x2="291.10" y2="237.90" stroke="#000" stroke-width="1.1" />
<rect x="281.30" y="235.60" width="4.60" height="4.60" fill="#000"/>
<text x="295.90" y="240.60" font-size="8.0" text-anchor="start" fill="#111" font-weight="normal" >Before</text>
<line x1="275.80" y1="250.20" x2="291.10" y2="250.20" stroke="#d9302a" stroke-width="1.1" />
<circle cx="283.60" cy="250.20" r="2.43" fill="#d9302a"/>
<text x="295.90" y="252.90" font-size="8.0" text-anchor="start" fill="#111" font-weight="normal" >After 5 months</text>
<rect x="500.6" y="228.9" width="104.70" height="162.80" fill="#d0e3ef"/>
<rect x="605.3" y="228.9" width="78.70" height="162.80" fill="#fdd9c5"/>
<rect x="500.60" y="228.90" width="183.40" height="162.80" fill="none" stroke="#6b6b6b" stroke-width="1.1"/>
<line x1="500.60" y1="391.50" x2="504.90" y2="391.50" stroke="#6b6b6b" stroke-width="1" />
<text x="495.40" y="394.60" font-size="8.9" text-anchor="end" fill="#222" font-weight="normal" >0.0</text>
<line x1="500.60" y1="341.50" x2="504.90" y2="341.50" stroke="#6b6b6b" stroke-width="1" />
<text x="495.40" y="344.60" font-size="8.9" text-anchor="end" fill="#222" font-weight="normal" >0.1</text>
<line x1="500.60" y1="291.50" x2="504.90" y2="291.50" stroke="#6b6b6b" stroke-width="1" />
<text x="495.40" y="294.60" font-size="8.9" text-anchor="end" fill="#222" font-weight="normal" >0.2</text>
<line x1="500.60" y1="241.50" x2="504.90" y2="241.50" stroke="#6b6b6b" stroke-width="1" />
<text x="495.40" y="244.60" font-size="8.9" text-anchor="end" fill="#222" font-weight="normal" >0.3</text>
<line x1="500.60" y1="366.50" x2="503.20" y2="366.50" stroke="#6b6b6b" stroke-width="1" />
<line x1="500.60" y1="316.50" x2="503.20" y2="316.50" stroke="#6b6b6b" stroke-width="1" />
<line x1="500.60" y1="266.50" x2="503.20" y2="266.50" stroke="#6b6b6b" stroke-width="1" />
<line x1="510.40" y1="391.70" x2="510.40" y2="395.30" stroke="#6b6b6b" stroke-width="1" />
<text x="510.40" y="407.60" font-size="8.9" text-anchor="middle" fill="#222" font-weight="normal" >0</text>
<line x1="550.12" y1="391.70" x2="550.12" y2="395.30" stroke="#6b6b6b" stroke-width="1" />
<text x="550.12" y="407.60" font-size="8.9" text-anchor="middle" fill="#222" font-weight="normal" >4</text>
<line x1="589.84" y1="391.70" x2="589.84" y2="395.30" stroke="#6b6b6b" stroke-width="1" />
<text x="589.84" y="407.60" font-size="8.9" text-anchor="middle" fill="#222" font-weight="normal" >8</text>
<line x1="629.56" y1="391.70" x2="629.56" y2="395.30" stroke="#6b6b6b" stroke-width="1" />
<text x="629.56" y="407.60" font-size="8.9" text-anchor="middle" fill="#222" font-weight="normal" >12</text>
<line x1="669.28" y1="391.70" x2="669.28" y2="395.30" stroke="#6b6b6b" stroke-width="1" />
<text x="669.28" y="407.60" font-size="8.9" text-anchor="middle" fill="#222" font-weight="normal" >16</text>
<line x1="530.26" y1="391.70" x2="530.26" y2="393.90" stroke="#6b6b6b" stroke-width="1" />
<line x1="569.98" y1="391.70" x2="569.98" y2="393.90" stroke="#6b6b6b" stroke-width="1" />
<line x1="609.70" y1="391.70" x2="609.70" y2="393.90" stroke="#6b6b6b" stroke-width="1" />
<line x1="649.42" y1="391.70" x2="649.42" y2="393.90" stroke="#6b6b6b" stroke-width="1" />
<line x1="605.30" y1="229.50" x2="605.30" y2="391.10" stroke="#c42040" stroke-width="1.3" stroke-dasharray="5,3"/>
<text x="466.20" y="226.20" font-size="10.5" text-anchor="start" fill="#000" font-weight="bold" >f</text>
<text x="514.00" y="224.40" font-size="8.7" text-anchor="middle" fill="#222">×</text>
<text x="517.60" y="224.70" font-size="8.7" fill="#222">10</text>
<text x="527.60" y="219.80" font-size="5.8" fill="#222">-4</text>
<text transform="translate(474.3,310.8) rotate(-90)" font-size="9.2" text-anchor="middle" fill="#222">Current (A )</text>
<text x="592.7" y="420.5" font-size="9.2" text-anchor="middle" fill="#222">Time (s)</text>
<polyline points="510.26,372.11 511.91,372.61 512.41,378.73 513.23,367.97 514.89,353.09 516.54,335.72 517.37,334.06 518.20,335.72 519.52,353.09 520.68,369.63 521.17,378.23 522.33,377.07 523.99,377.07 524.81,376.58 526.47,376.24 528.95,374.92 530.11,374.59 530.60,378.73 531.43,366.32 533.09,344.81 534.74,336.21 536.39,338.20 538.05,346.47 539.37,352.26 541.03,353.09 542.18,353.91 543.01,369.63 543.51,377.07 544.67,374.59 549.63,374.26 550.45,377.57 551.28,364.67 552.94,344.81 555.09,336.54 557.07,339.85 558.73,344.81 560.38,346.96 562.03,346.96 562.86,361.36 563.69,376.24 564.52,374.59 569.48,374.59 570.31,377.57 571.13,366.32 572.79,349.78 574.44,340.68 576.10,343.16 577.75,353.09 579.40,360.53 581.06,360.53 581.89,369.63 582.71,377.07 583.54,374.59 587.68,375.42 588.50,377.07 589.33,369.63 590.98,349.78 593.13,340.68 595.12,344.81 596.77,357.22 598.43,354.74 600.08,353.91 601.24,358.05 602.07,376.24 602.56,374.59 605.87,374.26 608.50,373.43 609.35,308.25 610.77,306.27 611.90,308.25 613.03,306.27 614.17,308.25 615.59,369.18 617.00,370.60 619.84,370.60 620.69,326.67 622.10,299.75 622.95,301.17 624.09,369.18 625.50,369.18 629.75,369.18 630.89,312.50 631.74,277.93 632.59,287.00 634.00,367.76 635.42,369.18 638.25,367.76 639.10,326.67 639.95,304.00 640.80,309.67 642.50,367.76 643.92,368.61 646.76,367.76 647.32,326.67 648.17,294.09 649.02,301.17 650.44,367.76 652.42,367.76 655.26,367.76 655.82,312.50 656.67,284.17 657.52,292.67 659.51,366.34 660.92,366.34 663.76,367.76 664.04,326.67 664.89,296.07 665.74,304.00 667.16,370.60 668.01,367.76 671.41,367.76 671.98,326.67 672.83,308.25 673.68,315.34 675.09,367.76 676.51,369.18" fill="none" stroke="#000" stroke-width="1.5" stroke-linejoin="round" />
<line x1="501.40" y1="307.50" x2="605.40" y2="307.50" stroke="#000" stroke-width="1.35" />
<polyline points="506.50,303.10 501.60,307.50 506.50,311.90" fill="none" stroke="#000" stroke-width="1.3"/>
<polyline points="600.30,303.10 605.20,307.50 600.30,311.90" fill="none" stroke="#000" stroke-width="1.3"/>
<line x1="606.10" y1="261.40" x2="682.90" y2="261.40" stroke="#000" stroke-width="1.35" />
<polyline points="611.20,257.00 606.30,261.40 611.20,265.80" fill="none" stroke="#000" stroke-width="1.3"/>
<polyline points="677.80,257.00 682.70,261.40 677.80,265.80" fill="none" stroke="#000" stroke-width="1.3"/>
<text x="555.00" y="299.50" font-size="9.2" text-anchor="middle" fill="#111" font-weight="normal" >Walk</text>
<text x="644.10" y="254.30" font-size="9.2" text-anchor="middle" fill="#111" font-weight="normal" >Run</text>
<rect x="501.0" y="229.4" width="52.0" height="37.4" fill="#fff" stroke="#111" stroke-width="1.3"/>
<defs><filter id="sb" x="-20%" y="-20%" width="140%" height="140%"><feGaussianBlur stdDeviation="0.45"/></filter></defs>
<path d="M503.4,244.6 C503.2,240.2 506.5,237.6 511,237 C517,236.3 526,236.4 534,237.3 C541,238.1 546.5,239.6 548.5,242.6 C549.6,245 548.6,247.6 545.5,249.2 C541,251.2 533,251.6 526,252.0 C519,252.4 512,252.6 508,251.6 C504.8,250.6 503.5,247.6 503.4,244.6 Z" fill="#c2c2c6" filter="url(#sb)"/>
<path d="M511.2,246.6 L511.6,243.8 L513.4,243.8 L513.2,245.6 Z" fill="#7a7a84"/>
<circle cx="535.6" cy="242.0" r="0.8" fill="#8a8a90"/><circle cx="535.2" cy="245.6" r="0.7" fill="#9a9aa0"/>
<path d="M543.6,229.5 C543.2,233 542.0,236.5 540.6,238.3 C539.5,239.6 538.0,240.4 536.6,240.8" fill="none" stroke="#b4703e" stroke-width="1.1"/>
<path d="M537.0,244.6 C540.0,246.2 543.5,247.8 546.5,249.8 C548.5,251.2 550.5,252.6 552.4,253.6" fill="none" stroke="#b4703e" stroke-width="1.1"/>
<path d="M542.4,247.2 L545.0,248.8" fill="none" stroke="#eac49a" stroke-width="1.2"/>
<text x="529.30" y="261.50" font-size="6.9" text-anchor="middle" fill="#111" font-weight="normal" >Tactile sock</text>
</svg>
</body></html>
